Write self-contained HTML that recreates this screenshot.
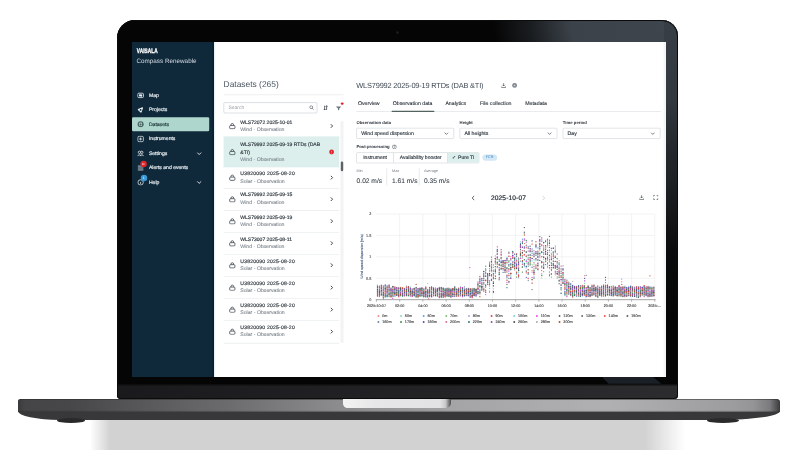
<!DOCTYPE html>
<html><head><meta charset="utf-8">
<style>
*{box-sizing:border-box;margin:0;padding:0}
html,body{width:800px;height:450px;overflow:hidden;background:#fff}
body{position:relative;font-family:"Liberation Sans",Arial,sans-serif}
.abs{position:absolute}
#shadow{position:absolute;left:60px;top:419px;width:640px;height:31px;
 background:linear-gradient(90deg,rgba(255,255,255,1) 0px,rgba(255,255,255,1) 30px,rgba(255,255,255,0) 50px,rgba(255,255,255,0) 585px,rgba(255,255,255,1) 625px),#d2d2d2}
#base{position:absolute;left:18px;top:404px;width:762px;height:16px;border-radius:0 0 60px 42px/0 0 9px 9px;background:#38383a}
#basetop{position:absolute;left:18px;top:399.3px;width:762px;height:12.4px;border-radius:2.5px 3.5px 1px 1px;box-shadow:inset 0 1px 0 rgba(40,40,40,.5),inset 0 -1px 1px rgba(40,40,40,.4);background:linear-gradient(90deg,#3a3a3c 0%,#454547 .9%,#474749 6.8%,#6c6c6e 27.8%,#8a8a8c 40.9%,#a4a4a6 56.7%,#b0b0b2 77.7%,#9c9c9e 94%,#949496 96.5%,#7a7a7c 98.7%,#3a3a3c 100%)}
#notch{position:absolute;left:343.2px;top:398.8px;width:108px;height:9.5px;border-radius:0 0 5px 4.5px;background:linear-gradient(90deg,#f4f4f4 0%,#e6e6e8 30%,#e2e2e4 90%,#c8c8ca 95%,#4a4a4c 100%)}
.foot{position:absolute;top:418px;height:5px;border-radius:50%;background:#2a2a2a}
#lid{position:absolute;left:117.3px;top:19.8px;width:561.2px;height:379.2px;border-radius:18px 16px 4px 4px;
 background:#050505;overflow:hidden;box-shadow:inset 0 0 0 1.2px #0a0a0a}
#lidglare{position:absolute;left:0;top:0;width:100%;height:100%;background:radial-gradient(ellipse 185px 135px at 100% 0%,rgba(62,69,76,1) 0%,rgba(59,66,73,1) 58%,rgba(40,45,50,.6) 80%,rgba(20,22,25,0) 100%)}
#lidrim{position:absolute;left:0;top:0;width:100%;height:100%;border-radius:18px 16px 4px 4px;border:1.6px solid #0b0b0b}
#chin{position:absolute;left:0;top:364px;width:100%;height:15px;background:linear-gradient(180deg,#0a0a0a 0,rgba(10,10,10,0) 2.5px),linear-gradient(90deg,#1a1a1c 0%,#1f1f21 30%,#232325 55%,#29292b 80%,#2c2c2e 100%)}
#screen{position:absolute;left:132px;top:41.5px;width:534px;height:335px;background:#fff;overflow:hidden}
#app{position:absolute;left:0;top:0;width:1335px;height:838px;transform:scale(.4);transform-origin:0 0;background:#fff;color:#2b3440;text-rendering:geometricPrecision}
#side{position:absolute;left:0;top:0;width:205px;height:838px;background:#0f293b;border-right:4px solid #0b1f2d}

#side .brand{position:absolute;left:11.5px;top:13.5px;font-weight:bold;font-size:16.5px;line-height:16.5px;color:#fff;transform:scaleX(.72);transform-origin:0 0;letter-spacing:.2px;-webkit-text-stroke:.8px #fff}
#side .prod{position:absolute;left:11.25px;top:40px;font-size:15.8px;line-height:16px;color:#d6dde3}
.nav{position:absolute;left:0;width:205px;height:35px;color:#eef2f5;font-size:12.7px;-webkit-text-stroke:.4px #eef2f5}
.nav.act{-webkit-text-stroke:.4px #1c3838}
.nav span.t{position:absolute;left:42.25px;top:11px;line-height:13px}
.nav svg{position:absolute;left:12.5px;top:9px;width:17px;height:17px}
.nav.act{left:0;width:192.5px;background:#aed6cd;border-radius:3px;color:#1c3838}
.nav .chev{position:absolute;left:160.5px;top:11px;width:14px;height:14px}
.badge{position:absolute;width:14px;height:14px;border-radius:50%}

.h1{position:absolute;left:229px;top:95.4px;font-size:21px;line-height:21px;color:#4b5661;white-space:nowrap}
.hr{position:absolute;height:2px;background:#e8ebee}
#search{position:absolute;left:229px;top:151px;width:234px;height:26.5px;border:1.8px solid #a9b1b8;border-radius:3px;background:#fff}
#search span{position:absolute;left:11px;top:6px;font-size:12.5px;line-height:12px;color:#9aa2aa}
#search svg{position:absolute;left:213px;top:6px;width:12px;height:12px}
.item{position:absolute;left:229px;width:288.5px;height:55.2px;background:#fff;border-bottom:2.5px solid #e7e9eb}
.item.sel{background:#dcefed;border-bottom:none}
.item .ti{position:absolute;left:41.75px;font-size:12.6px;line-height:12.5px;color:#2d353d;white-space:nowrap;-webkit-text-stroke:.4px #2d353d}
.item .su{position:absolute;left:41.75px;font-size:12.9px;line-height:13px;color:#7a838b;white-space:nowrap;-webkit-text-stroke:.2px #7a838b}
.item svg.ic{position:absolute;left:13px;width:17.5px;height:17.5px;margin-top:-.5px}
.item svg.ch{position:absolute;left:265px;width:10px;height:12px}
#sb{position:absolute;left:521px;top:198px;width:7px;height:554px;background:#f3f4f5;border-right:1.5px solid #e6e8ea}
#sbt{position:absolute;left:521.5px;top:299px;width:6px;height:24px;background:#5d6369;border-radius:3px}
.t2{position:absolute;left:560.75px;top:100px;font-size:18.5px;line-height:19px;letter-spacing:-.45px;color:#3f4953;white-space:nowrap}
.tab{position:absolute;top:146px;font-size:13px;line-height:13px;color:#2d363f;white-space:nowrap;-webkit-text-stroke:.3px #2d363f}
.lab{position:absolute;top:196px;font-weight:bold;font-size:10.6px;line-height:11px;color:#2b333b;white-space:nowrap}
.dd{position:absolute;top:215px;width:244px;height:27px;border:1.8px solid #b4bbc2;border-radius:3px;background:#fff}
.dd span{position:absolute;left:11px;top:5.5px;font-size:13px;line-height:13px;color:#2d363f;white-space:nowrap;-webkit-text-stroke:.35px #2d363f}
.dd svg{position:absolute;right:12px;top:9px;width:12px;height:8px}
.seg{position:absolute;left:561px;top:275.5px;width:306.5px;height:27px;border:1.8px solid #b4bbc2;border-radius:3px;display:flex;overflow:hidden}
.sg{height:100%;border-right:1.8px solid #b4bbc2;font-size:12.6px;line-height:23px;text-align:center;color:#2d363f;white-space:nowrap;-webkit-text-stroke:.35px #2d363f}
.sg.on{border-right:none;background:#dcefed}
.sg .ck{font-size:12px;margin-right:5px;color:#2d363f}
.chip{position:absolute;left:876px;top:281.25px;width:36.5px;height:16px;border-radius:8px;background:#d3e8f7;color:#3b7fb8;font-size:9.5px;line-height:16px;text-align:center}
.stl{position:absolute;top:316.5px;font-size:9.5px;line-height:10px;color:#6d767e}
.stv{position:absolute;top:339px;font-size:16.6px;line-height:17px;color:#3a434c;white-space:nowrap;-webkit-text-stroke:.2px #3a434c}
.vd{position:absolute;top:316px;width:2px;height:43px;background:#e1e4e7}
.date{position:absolute;left:897.5px;top:381.5px;font-size:16.5px;line-height:17px;color:#2d363f;letter-spacing:.3px;-webkit-text-stroke:.6px #2d363f}
#wrap{position:absolute;left:0;top:0;width:800px;height:450px;filter:blur(.35px)}</style></head>
<body><div id="wrap">
<div id="shadow"></div>
<div id="base"></div>
<div id="basetop"></div>
<div id="notch"></div>
<div class="foot" style="left:57px;width:28px"></div>
<div class="foot" style="left:707px;width:32px"></div>
<div id="lid"><div id="lidglare"></div><div id="rglare" style="position:absolute;right:0;top:0;width:14px;height:300px;background:linear-gradient(180deg,rgba(55,61,68,.9) 0,rgba(42,47,52,.75) 150px,rgba(25,28,31,.3) 230px,rgba(20,22,25,0) 300px)"></div><div id="chin"></div><div style="position:absolute;left:484px;top:356.5px;width:60px;height:7.5px;background:#1b2027;clip-path:polygon(0 0,85% 0,100% 100%,12% 100%)"></div><div id="cam" style="position:absolute;left:278.5px;top:10.8px;width:3.4px;height:3.4px;border-radius:50%;background:radial-gradient(circle,#1e1e20 0%,#0e0e0e 100%)"></div><div id="lidrim"></div></div>
<div id="screen"><div id="app">
<div id="side">
<div class="brand">VAISALA</div>
<div class="prod">Compass Renewable</div>
<div class="nav" style="top:116px"><svg viewBox="0 0 16 16"><rect x="1.2" y="2.8" width="13.6" height="10.4" rx="2.6" fill="none" stroke="#e9eef1" stroke-width="1.9"/><path d="M4.2 5.6 L6.6 5 L9.4 6 L11.8 5.4 V10.4 L9.4 11 L6.6 10 L4.2 10.6 Z" fill="#e9eef1"/></svg><span class="t">Map</span></div>
<div class="nav" style="top:152.2px"><svg viewBox="0 0 16 16"><path d="M2.5 7.5 L12.5 3.5 L9 13.5 Z" fill="#e9eef1" stroke="#e9eef1" stroke-width="2.6" stroke-linejoin="round"/><circle cx="8" cy="8.2" r="2.1" fill="#0f293b"/></svg><span class="t">Projects</span></div>
<div class="nav act" style="top:188.4px"><svg viewBox="0 0 16 16"><circle cx="8" cy="8" r="7.2" fill="#4b6766"/><rect x="4.8" y="3.8" width="6.4" height="8.6" rx="2" fill="#aed6cd"/><rect x="6.1" y="6.6" width="3.8" height="4.2" rx=".8" fill="#4b6766"/></svg><span class="t">Datasets</span></div>
<div class="nav" style="top:224.6px"><svg viewBox="0 0 16 16" fill="none" stroke="#e9eef1" stroke-width="1.8"><rect x="1.5" y="1.5" width="13" height="13" rx="3"/><path d="M4.5 8 H11.5 M8 4.5 V11.5"/></svg><span class="t">Instruments</span></div>
<div class="nav" style="top:260.8px"><svg viewBox="0 0 16 16" fill="none" stroke="#e9eef1" stroke-width="1.8"><circle cx="5.2" cy="5.5" r="2.8"/><circle cx="10.8" cy="5.5" r="2.8"/><path d="M0.9 14.5 C1.4 10.3 9 10.3 9.5 14.5 M6.5 14.5 C7 10.3 14.6 10.3 15.1 14.5"/></svg><span class="t">Settings</span><svg class="chev" viewBox="0 0 10 10" fill="none" stroke="#dfe6ea" stroke-width="1.7"><path d="M1.5 3.2 L5 6.7 L8.5 3.2"/></svg></div>
<div class="nav" style="top:297px"><svg viewBox="0 0 16 16" fill="none" stroke="#e9eef1" stroke-width="1.8"><path d="M1.5 4 H14.5 M1.5 8.5 H14.5 M1.5 13 H14.5"/></svg><span class="badge" style="left:21px;top:-.5px;width:16px;height:16px;background:#e0242c;color:#fff;font-size:7.5px;line-height:16px;text-align:center;-webkit-text-stroke:0">9+</span><span class="t">Alerts and events</span></div>
<div class="nav" style="top:333.2px"><svg viewBox="0 0 16 16" fill="none" stroke="#e9eef1" stroke-width="1.8"><circle cx="8" cy="8.5" r="6.3"/><path d="M8 7.5 V12"/></svg><span class="badge" style="left:21.5px;top:-1px;width:16px;height:16px;background:#3a9ad9;color:#fff;font-size:8.5px;line-height:16px;text-align:center;-webkit-text-stroke:0">1</span><span class="t">Help</span><svg class="chev" viewBox="0 0 10 10" fill="none" stroke="#dfe6ea" stroke-width="1.7"><path d="M1.5 3.2 L5 6.7 L8.5 3.2"/></svg></div>
</div>
<div id="sideline" style="position:absolute;left:205px;top:0;width:2.5px;height:838px;background:#e9eef2"></div><div class="h1">Datasets (265)</div><div class="hr" style="left:229px;top:131px;width:300px"></div><div id="search"><span>Search</span><svg viewBox="0 0 12 12" fill="none" stroke="#4a5259" stroke-width="1.6"><circle cx="5" cy="5" r="3.6"/><path d="M7.6 7.6 L11 11"/></svg></div><svg style="position:absolute;left:478px;top:158px;width:12px;height:13px" viewBox="0 0 12 13" fill="none" stroke="#2f373e" stroke-width="1.8"><path d="M3.5 1 V12 M1 9.5 L3.5 12 L6 9.5 M8.5 12 V1 M6 3.5 L8.5 1 L11 3.5"/></svg><svg style="position:absolute;left:509px;top:159.5px;width:15px;height:11px" viewBox="0 0 15 11" fill="#6c747b"><path d="M0.5 1 H14.5 L9 6.5 V10.5 L6 10.5 V6.5 Z"/></svg><span class="badge" style="left:522px;top:150.5px;width:6.5px;height:6.5px;background:#e0242c"></span><div id="sb"></div><div class="item" style="top:184.75px"><svg class="ic" viewBox="0 0 16 16" fill="none" stroke="#3c444b" stroke-width="1.8" style="top:17.0px"><path d="M5 7 V5.5 A3 3 0 0 1 11 5.5 V7"/><rect x="2" y="7" width="12" height="7.5" rx="2.2"/></svg><span class="ti" style="top:9.25px">WLS72072 2025-10-01</span><span class="su" style="top:27px">Wind - Observation</span><svg class="ch" viewBox="0 0 10 12" fill="none" stroke="#3a4249" stroke-width="2.4" style="top:19.5px"><path d="M3 1.5 L7.5 6 L3 10.5"/></svg></div><div class="item sel" style="top:236.25px;height:77.5px"><svg class="ic" viewBox="0 0 16 16" fill="none" stroke="#3c444b" stroke-width="1.8" style="top:30.0px"><path d="M5 7 V5.5 A3 3 0 0 1 11 5.5 V7"/><rect x="2" y="7" width="12" height="7.5" rx="2.2"/></svg><span class="ti" style="top:14px">WLS79992 2025-09-19 RTDs (DAB</span><span class="ti" style="top:32.5px">&amp;TI)</span><span class="su" style="top:49.5px">Wind - Observation</span><span class="badge" style="left:263.5px;top:33px;width:12px;height:12px;background:#e0242c"><i style="position:absolute;left:5.2px;top:2.5px;width:1.8px;height:4.5px;background:#fff"></i><i style="position:absolute;left:5.2px;top:8px;width:1.8px;height:1.6px;background:#fff"></i></span></div><div class="item" style="top:313.75px;height:53.45px"><svg class="ic" viewBox="0 0 16 16" fill="none" stroke="#3c444b" stroke-width="1.8" style="top:17.0px"><path d="M5 7 V5.5 A3 3 0 0 1 11 5.5 V7"/><rect x="2" y="7" width="12" height="7.5" rx="2.2"/></svg><span class="ti" style="top:9.25px;letter-spacing:.55px">U3820090 2025-08-20</span><span class="su" style="top:27px">Solar - Observation</span><svg class="ch" viewBox="0 0 10 12" fill="none" stroke="#3a4249" stroke-width="2.4" style="top:19.5px"><path d="M3 1.5 L7.5 6 L3 10.5"/></svg></div><div class="item" style="top:367.20px"><svg class="ic" viewBox="0 0 16 16" fill="none" stroke="#3c444b" stroke-width="1.8" style="top:17.0px"><path d="M5 7 V5.5 A3 3 0 0 1 11 5.5 V7"/><rect x="2" y="7" width="12" height="7.5" rx="2.2"/></svg><span class="ti" style="top:9.25px">WLS79992 2025-09-15</span><span class="su" style="top:27px">Wind - Observation</span><svg class="ch" viewBox="0 0 10 12" fill="none" stroke="#3a4249" stroke-width="2.4" style="top:19.5px"><path d="M3 1.5 L7.5 6 L3 10.5"/></svg></div><div class="item" style="top:422.40px"><svg class="ic" viewBox="0 0 16 16" fill="none" stroke="#3c444b" stroke-width="1.8" style="top:17.0px"><path d="M5 7 V5.5 A3 3 0 0 1 11 5.5 V7"/><rect x="2" y="7" width="12" height="7.5" rx="2.2"/></svg><span class="ti" style="top:9.25px">WLS79992 2025-09-19</span><span class="su" style="top:27px">Wind - Observation</span><svg class="ch" viewBox="0 0 10 12" fill="none" stroke="#3a4249" stroke-width="2.4" style="top:19.5px"><path d="M3 1.5 L7.5 6 L3 10.5"/></svg></div><div class="item" style="top:477.60px"><svg class="ic" viewBox="0 0 16 16" fill="none" stroke="#3c444b" stroke-width="1.8" style="top:17.0px"><path d="M5 7 V5.5 A3 3 0 0 1 11 5.5 V7"/><rect x="2" y="7" width="12" height="7.5" rx="2.2"/></svg><span class="ti" style="top:9.25px">WLS73007 2025-08-11</span><span class="su" style="top:27px">Wind - Observation</span><svg class="ch" viewBox="0 0 10 12" fill="none" stroke="#3a4249" stroke-width="2.4" style="top:19.5px"><path d="M3 1.5 L7.5 6 L3 10.5"/></svg></div><div class="item" style="top:532.80px"><svg class="ic" viewBox="0 0 16 16" fill="none" stroke="#3c444b" stroke-width="1.8" style="top:17.0px"><path d="M5 7 V5.5 A3 3 0 0 1 11 5.5 V7"/><rect x="2" y="7" width="12" height="7.5" rx="2.2"/></svg><span class="ti" style="top:9.25px;letter-spacing:.55px">U3820090 2025-08-20</span><span class="su" style="top:27px">Solar - Observation</span><svg class="ch" viewBox="0 0 10 12" fill="none" stroke="#3a4249" stroke-width="2.4" style="top:19.5px"><path d="M3 1.5 L7.5 6 L3 10.5"/></svg></div><div class="item" style="top:588.00px"><svg class="ic" viewBox="0 0 16 16" fill="none" stroke="#3c444b" stroke-width="1.8" style="top:17.0px"><path d="M5 7 V5.5 A3 3 0 0 1 11 5.5 V7"/><rect x="2" y="7" width="12" height="7.5" rx="2.2"/></svg><span class="ti" style="top:9.25px;letter-spacing:.55px">U3820090 2025-08-20</span><span class="su" style="top:27px">Solar - Observation</span><svg class="ch" viewBox="0 0 10 12" fill="none" stroke="#3a4249" stroke-width="2.4" style="top:19.5px"><path d="M3 1.5 L7.5 6 L3 10.5"/></svg></div><div class="item" style="top:643.20px"><svg class="ic" viewBox="0 0 16 16" fill="none" stroke="#3c444b" stroke-width="1.8" style="top:17.0px"><path d="M5 7 V5.5 A3 3 0 0 1 11 5.5 V7"/><rect x="2" y="7" width="12" height="7.5" rx="2.2"/></svg><span class="ti" style="top:9.25px;letter-spacing:.55px">U3820090 2025-08-20</span><span class="su" style="top:27px">Solar - Observation</span><svg class="ch" viewBox="0 0 10 12" fill="none" stroke="#3a4249" stroke-width="2.4" style="top:19.5px"><path d="M3 1.5 L7.5 6 L3 10.5"/></svg></div><div class="item" style="top:698.40px"><svg class="ic" viewBox="0 0 16 16" fill="none" stroke="#3c444b" stroke-width="1.8" style="top:17.0px"><path d="M5 7 V5.5 A3 3 0 0 1 11 5.5 V7"/><rect x="2" y="7" width="12" height="7.5" rx="2.2"/></svg><span class="ti" style="top:9.25px;letter-spacing:.55px">U3820090 2025-08-20</span><span class="su" style="top:27px">Solar - Observation</span><svg class="ch" viewBox="0 0 10 12" fill="none" stroke="#3a4249" stroke-width="2.4" style="top:19.5px"><path d="M3 1.5 L7.5 6 L3 10.5"/></svg></div><div id="sbt"></div>
<div class="t2">WLS79992 2025-09-19 RTDs (DAB &amp;TI)</div>
<svg style="position:absolute;left:923px;top:101.5px;width:12px;height:13px" viewBox="0 0 12 13" fill="none" stroke="#4a5259" stroke-width="1.7"><path d="M6 1 V8 M3 5 L6 8 L9 5 M1 9 V12 H11 V9"/></svg>
<svg style="position:absolute;left:949.5px;top:102px;width:13px;height:13px" viewBox="0 0 13 13"><circle cx="6.5" cy="6.5" r="6" fill="#7b838b"/><circle cx="6.5" cy="6.5" r="2.4" fill="#c9ced3"/></svg>
<div class="tab" style="left:564.75px">Overview</div>
<div class="tab" style="left:652px">Observation data</div>
<div class="tab" style="left:783.5px">Analytics</div>
<div class="tab" style="left:870px">File collection</div>
<div class="tab" style="left:983px">Metadata</div>
<div class="hr" style="left:561px;top:173px;width:761px;background:#e4e7ea"></div>
<div style="position:absolute;left:649px;top:171.6px;width:107px;height:3px;background:#52625e;border-radius:1.5px"></div>
<div class="lab" style="left:561px">Observation data</div>
<div class="lab" style="left:819px">Height</div>
<div class="lab" style="left:1077px">Time period</div>
<div class="dd" style="left:561px"><span>Wind speed dispersion</span><svg viewBox="0 0 12 8" fill="none" stroke="#4a5259" stroke-width="1.8"><path d="M1.5 1.5 L6 6 L10.5 1.5"/></svg></div>
<div class="dd" style="left:819px"><span>All heights</span><svg viewBox="0 0 12 8" fill="none" stroke="#4a5259" stroke-width="1.8"><path d="M1.5 1.5 L6 6 L10.5 1.5"/></svg></div>
<div class="dd" style="left:1077px"><span>Day</span><svg viewBox="0 0 12 8" fill="none" stroke="#4a5259" stroke-width="1.8"><path d="M1.5 1.5 L6 6 L10.5 1.5"/></svg></div>
<div class="lab" style="left:561px;top:256.5px">Post-processing</div>
<svg style="position:absolute;left:650px;top:256px;width:12px;height:12px" viewBox="0 0 12 12" fill="none" stroke="#4a5259" stroke-width="1.3"><circle cx="6" cy="6" r="5"/><path d="M4.3 4.6 A1.8 1.8 0 1 1 6 6.4 V7.4 M6 8.6 V9.4"/></svg>
<div class="seg"><div class="sg" style="width:92.5px">Instrument</div><div class="sg" style="width:135.5px">Availability booster</div><div class="sg on" style="flex:1"><span class="ck">&#10003;</span>Pure TI</div></div>
<div class="chip">FCR</div>
<div class="stl" style="left:561.5px">Min</div><div class="stv" style="left:561.5px">0.02 m/s</div>
<div class="vd" style="left:636px"></div>
<div class="stl" style="left:650px">Max</div><div class="stv" style="left:650px">1.61 m/s</div>
<div class="vd" style="left:717px"></div>
<div class="stl" style="left:730px">Average</div><div class="stv" style="left:730px">0.35 m/s</div>
<svg style="position:absolute;left:848px;top:383px;width:10px;height:14px" viewBox="0 0 10 14" fill="none" stroke="#3c444b" stroke-width="2"><path d="M7.5 1.5 L2.5 7 L7.5 12.5"/></svg>
<div class="date">2025-10-07</div>
<svg style="position:absolute;left:1024px;top:383px;width:10px;height:14px" viewBox="0 0 10 14" fill="none" stroke="#c9ced3" stroke-width="2"><path d="M2.5 1.5 L7.5 7 L2.5 12.5"/></svg>
<svg style="position:absolute;left:1268px;top:382px;width:12px;height:13px" viewBox="0 0 12 13" fill="none" stroke="#4a5259" stroke-width="1.7"><path d="M6 1 V8 M3 5 L6 8 L9 5 M1 9 V12 H11 V9"/></svg>
<svg style="position:absolute;left:1302.5px;top:382px;width:13px;height:13px" viewBox="0 0 13 13" fill="none" stroke="#4a5259" stroke-width="1.7"><path d="M1 4.5 V1 H4.5 M8.5 1 H12 V4.5 M12 8.5 V12 H8.5 M4.5 12 H1 V8.5"/></svg>
<div id="vscr" style="position:absolute;left:1329px;top:0;width:6px;height:838px;background:#f4f5f6"></div>
<svg style="position:absolute;left:0;top:0;width:1335px;height:838px;overflow:visible" viewBox="0 0 1335 838">
<path d="M611.2 590.7H1307.0M611.2 537.1H1307.0M611.2 483.6H1307.0M611.2 430.0H1307.0M669.2 430.0V644.2M727.2 430.0V644.2M785.2 430.0V644.2M843.2 430.0V644.2M901.1 430.0V644.2M959.1 430.0V644.2M1017.1 430.0V644.2M1075.1 430.0V644.2M1133.1 430.0V644.2M1191.0 430.0V644.2M1249.0 430.0V644.2M1307.0 430.0V644.2" stroke="#ececec" stroke-width="1.6" fill="none"/>
<path d="M613.7 615.8h0M618.5 628.6h0M623.3 633.5h0M628.2 615.3h0M633.0 629.4h0M637.8 612.3h0M642.7 632.9h0M647.5 635.2h0M652.3 617.2h0M657.2 624.0h0M662.0 629.3h0M666.8 620.7h0M671.6 627.8h0M676.5 617.9h0M681.3 624.6h0M686.1 629.8h0M691.0 615.9h0M695.8 613.7h0M700.6 616.6h0M705.5 628.8h0M710.3 634.3h0M715.1 623.9h0M720.0 630.9h0M724.8 634.6h0M729.6 621.6h0M734.5 624.9h0M739.3 620.4h0M744.1 614.9h0M749.0 616.1h0M753.8 622.5h0M758.6 626.1h0M763.4 628.7h0M768.3 614.2h0M773.1 626.9h0M777.9 633.3h0M782.8 623.9h0M787.6 617.7h0M792.4 615.5h0M797.3 631.9h0M802.1 625.7h0M806.9 627.7h0M811.8 633.8h0M816.6 634.0h0M821.4 624.5h0M826.3 619.2h0M831.1 632.1h0M835.9 631.6h0M840.8 629.4h0M845.6 636.3h0M850.4 625.3h0M855.2 633.7h0M860.1 631.6h0M864.9 601.2h0M869.7 626.6h0M874.6 595.8h0M879.4 602.6h0M884.2 622.5h0M889.1 593.8h0M893.9 622.6h0M898.7 572.3h0M903.6 598.4h0M908.4 546.1h0M913.2 537.2h0M918.1 575.4h0M922.9 550.2h0M927.7 558.1h0M932.6 560.0h0M937.4 575.8h0M942.2 582.3h0M947.0 536.5h0M951.9 539.5h0M956.7 548.9h0M961.5 576.2h0M966.4 540.6h0M971.2 533.0h0M976.0 562.3h0M980.9 531.2h0M985.7 548.9h0M990.5 591.9h0M995.4 551.5h0M1000.2 603.5h0M1005.0 537.6h0M1009.9 556.8h0M1014.7 565.4h0M1019.5 539.1h0M1024.4 494.2h0M1029.2 551.8h0M1034.0 510.2h0M1038.8 563.9h0M1043.7 539.7h0M1048.5 534.5h0M1053.3 537.4h0M1058.2 514.7h0M1063.0 549.2h0M1067.8 546.3h0M1072.7 599.8h0M1077.5 566.3h0M1082.3 615.0h0M1087.2 613.9h0M1092.0 601.3h0M1096.8 607.3h0M1101.7 618.9h0M1106.5 625.7h0M1111.3 630.9h0M1116.2 631.5h0M1121.0 633.6h0M1125.8 615.2h0M1130.6 623.2h0M1135.5 621.6h0M1140.3 608.7h0M1145.1 629.7h0M1150.0 613.3h0M1154.8 632.9h0M1159.6 631.6h0M1164.5 617.0h0M1169.3 629.6h0M1174.1 635.2h0M1179.0 613.5h0M1183.8 618.7h0M1188.6 606.9h0M1193.5 628.7h0M1198.3 614.2h0M1203.1 615.6h0M1208.0 611.0h0M1212.8 628.7h0M1217.6 608.5h0M1222.4 618.3h0M1227.3 622.1h0M1232.1 613.1h0M1236.9 623.4h0M1241.8 627.2h0M1246.6 634.2h0M1251.4 634.7h0M1256.3 618.4h0M1261.1 627.3h0M1265.9 627.6h0M1270.8 635.7h0M1275.6 631.1h0M1280.4 614.5h0M1285.3 618.0h0M1290.1 611.2h0M1294.9 628.3h0M1299.8 622.8h0M1304.6 629.3h0M1131.6 584.3h0M1224.4 599.3h0" stroke="#f08a8a" stroke-width="3.2" stroke-linecap="round" fill="none"/>
<path d="M613.7 630.7h0M618.5 617.9h0M623.3 632.7h0M628.2 637.5h0M633.0 627.6h0M637.8 637.5h0M642.7 637.1h0M647.5 625.2h0M652.3 622.5h0M657.2 636.3h0M662.0 620.8h0M666.8 613.5h0M671.6 614.2h0M676.5 635.4h0M681.3 632.5h0M686.1 615.5h0M691.0 626.1h0M695.8 615.1h0M700.6 631.4h0M705.5 629.7h0M710.3 638.0h0M715.1 627.5h0M720.0 634.8h0M724.8 635.9h0M729.6 623.0h0M734.5 617.3h0M739.3 603.2h0M744.1 630.1h0M749.0 620.3h0M753.8 632.9h0M758.6 616.7h0M763.4 634.2h0M768.3 633.8h0M773.1 638.7h0M777.9 637.5h0M782.8 625.1h0M787.6 633.9h0M792.4 617.8h0M797.3 617.7h0M802.1 635.7h0M806.9 636.4h0M811.8 632.3h0M816.6 616.6h0M821.4 614.3h0M826.3 619.9h0M831.1 633.2h0M835.9 619.7h0M840.8 621.7h0M845.6 627.9h0M850.4 635.5h0M855.2 634.8h0M860.1 630.1h0M864.9 611.8h0M869.7 589.8h0M874.6 590.7h0M879.4 617.2h0M884.2 582.6h0M889.1 585.0h0M893.9 624.2h0M898.7 543.2h0M903.6 617.1h0M908.4 561.5h0M913.2 555.8h0M918.1 563.7h0M922.9 560.1h0M927.7 568.1h0M932.6 560.1h0M937.4 538.6h0M942.2 546.3h0M947.0 583.6h0M951.9 532.3h0M956.7 542.8h0M961.5 580.4h0M966.4 543.4h0M971.2 527.5h0M976.0 510.9h0M980.9 544.6h0M985.7 552.9h0M990.5 511.5h0M995.4 533.0h0M1000.2 519.1h0M1005.0 544.6h0M1009.9 546.6h0M1014.7 557.1h0M1019.5 525.2h0M1024.4 589.6h0M1029.2 518.1h0M1034.0 548.7h0M1038.8 551.6h0M1043.7 566.6h0M1048.5 528.1h0M1053.3 514.1h0M1058.2 526.7h0M1063.0 568.0h0M1067.8 596.1h0M1072.7 616.7h0M1077.5 571.4h0M1082.3 626.6h0M1087.2 607.6h0M1092.0 618.6h0M1096.8 610.9h0M1101.7 634.5h0M1106.5 628.1h0M1111.3 622.1h0M1116.2 617.7h0M1121.0 622.1h0M1125.8 625.1h0M1130.6 631.2h0M1135.5 618.1h0M1140.3 624.8h0M1145.1 632.3h0M1150.0 624.7h0M1154.8 606.6h0M1159.6 630.9h0M1164.5 611.3h0M1169.3 623.6h0M1174.1 611.9h0M1179.0 633.5h0M1183.8 630.3h0M1188.6 615.5h0M1193.5 614.7h0M1198.3 612.5h0M1203.1 609.4h0M1208.0 616.0h0M1212.8 613.5h0M1217.6 633.0h0M1222.4 632.8h0M1227.3 630.3h0M1232.1 611.9h0M1236.9 620.0h0M1241.8 612.2h0M1246.6 631.9h0M1251.4 613.2h0M1256.3 628.2h0M1261.1 617.1h0M1265.9 623.9h0M1270.8 633.4h0M1275.6 632.6h0M1280.4 630.8h0M1285.3 626.6h0M1290.1 620.9h0M1294.9 613.0h0M1299.8 616.0h0M1304.6 620.0h0M1131.6 603.5h0" stroke="#8fd0b4" stroke-width="3.2" stroke-linecap="round" fill="none"/>
<path d="M613.7 611.5h0M618.5 611.3h0M623.3 611.7h0M628.2 628.4h0M633.0 610.8h0M637.8 636.2h0M642.7 626.7h0M647.5 615.8h0M652.3 633.3h0M657.2 621.8h0M662.0 627.0h0M666.8 634.1h0M671.6 629.8h0M676.5 619.8h0M681.3 633.8h0M686.1 622.5h0M691.0 623.5h0M695.8 632.6h0M700.6 624.6h0M705.5 615.6h0M710.3 625.7h0M715.1 629.8h0M720.0 622.2h0M724.8 619.3h0M729.6 625.7h0M734.5 635.0h0M739.3 631.8h0M744.1 632.6h0M749.0 623.4h0M753.8 627.6h0M758.6 634.4h0M763.4 632.1h0M768.3 613.6h0M773.1 613.5h0M777.9 626.7h0M782.8 618.4h0M787.6 633.6h0M792.4 621.2h0M797.3 618.3h0M802.1 628.3h0M806.9 616.6h0M811.8 635.9h0M816.6 630.3h0M821.4 617.8h0M826.3 616.8h0M831.1 628.7h0M835.9 617.2h0M840.8 627.6h0M845.6 630.8h0M850.4 627.7h0M855.2 631.3h0M860.1 623.7h0M864.9 608.3h0M869.7 596.8h0M874.6 596.9h0M879.4 606.1h0M884.2 584.3h0M889.1 593.2h0M893.9 609.9h0M898.7 595.2h0M903.6 557.4h0M908.4 578.0h0M913.2 531.2h0M918.1 571.4h0M922.9 546.5h0M927.7 556.6h0M932.6 571.2h0M937.4 585.8h0M942.2 578.6h0M947.0 553.6h0M951.9 549.2h0M956.7 546.8h0M961.5 544.5h0M966.4 550.5h0M971.2 503.9h0M976.0 492.9h0M980.9 514.9h0M985.7 545.6h0M990.5 581.0h0M995.4 533.2h0M1000.2 517.0h0M1005.0 587.5h0M1009.9 514.2h0M1014.7 514.8h0M1019.5 499.5h0M1024.4 526.0h0M1029.2 574.2h0M1034.0 530.9h0M1038.8 557.0h0M1043.7 575.0h0M1048.5 587.8h0M1053.3 524.6h0M1058.2 510.3h0M1063.0 587.1h0M1067.8 557.6h0M1072.7 614.0h0M1077.5 598.3h0M1082.3 631.2h0M1087.2 612.4h0M1092.0 629.1h0M1096.8 604.1h0M1101.7 630.8h0M1106.5 625.7h0M1111.3 635.6h0M1116.2 628.0h0M1121.0 635.1h0M1125.8 634.4h0M1130.6 614.0h0M1135.5 635.4h0M1140.3 631.4h0M1145.1 613.9h0M1150.0 616.2h0M1154.8 608.2h0M1159.6 619.4h0M1164.5 612.9h0M1169.3 624.4h0M1174.1 631.3h0M1179.0 619.4h0M1183.8 627.7h0M1188.6 627.1h0M1193.5 627.1h0M1198.3 626.9h0M1203.1 629.2h0M1208.0 618.6h0M1212.8 632.6h0M1217.6 629.4h0M1222.4 627.9h0M1227.3 618.0h0M1232.1 631.4h0M1236.9 616.7h0M1241.8 613.2h0M1246.6 616.9h0M1251.4 621.2h0M1256.3 626.7h0M1261.1 624.7h0M1265.9 620.8h0M1270.8 611.7h0M1275.6 614.2h0M1280.4 626.8h0M1285.3 633.4h0M1290.1 613.3h0M1294.9 622.7h0M1299.8 630.5h0M1304.6 616.9h0M1224.4 592.8h0" stroke="#5a9ee6" stroke-width="3.2" stroke-linecap="round" fill="none"/>
<path d="M613.7 631.3h0M618.5 621.7h0M623.3 628.3h0M628.2 625.5h0M633.0 636.2h0M637.8 609.8h0M642.7 634.0h0M647.5 621.6h0M652.3 634.9h0M657.2 630.0h0M662.0 628.7h0M666.8 617.8h0M671.6 618.2h0M676.5 623.9h0M681.3 620.4h0M686.1 614.7h0M691.0 624.7h0M695.8 619.2h0M700.6 632.1h0M705.5 619.8h0M710.3 618.4h0M715.1 638.8h0M720.0 628.7h0M724.8 619.5h0M729.6 636.5h0M734.5 637.8h0M739.3 633.9h0M744.1 618.7h0M749.0 626.3h0M753.8 628.0h0M758.6 614.9h0M763.4 624.3h0M768.3 624.7h0M773.1 615.2h0M777.9 618.8h0M782.8 619.4h0M787.6 628.5h0M792.4 636.5h0M797.3 626.3h0M802.1 623.5h0M806.9 621.2h0M811.8 624.6h0M816.6 633.5h0M821.4 630.6h0M826.3 622.0h0M831.1 623.7h0M835.9 626.5h0M840.8 625.3h0M845.6 625.5h0M850.4 623.9h0M855.2 621.3h0M860.1 635.2h0M864.9 607.2h0M869.7 611.0h0M874.6 603.7h0M879.4 616.0h0M884.2 595.8h0M889.1 581.0h0M893.9 565.7h0M898.7 557.9h0M903.6 563.9h0M908.4 550.9h0M913.2 556.8h0M918.1 543.5h0M922.9 556.6h0M927.7 561.0h0M932.6 553.9h0M937.4 554.5h0M942.2 547.5h0M947.0 543.7h0M951.9 555.7h0M956.7 540.3h0M961.5 532.0h0M966.4 544.1h0M971.2 539.6h0M976.0 563.5h0M980.9 556.3h0M985.7 507.7h0M990.5 539.1h0M995.4 554.4h0M1000.2 557.1h0M1005.0 555.2h0M1009.9 506.1h0M1014.7 531.0h0M1019.5 519.8h0M1024.4 584.1h0M1029.2 550.3h0M1034.0 547.3h0M1038.8 501.8h0M1043.7 508.1h0M1048.5 530.6h0M1053.3 546.8h0M1058.2 582.1h0M1063.0 541.1h0M1067.8 587.9h0M1072.7 575.0h0M1077.5 580.0h0M1082.3 633.8h0M1087.2 630.7h0M1092.0 618.2h0M1096.8 622.4h0M1101.7 624.9h0M1106.5 629.8h0M1111.3 626.2h0M1116.2 615.8h0M1121.0 624.7h0M1125.8 610.6h0M1130.6 610.9h0M1135.5 629.6h0M1140.3 622.1h0M1145.1 626.7h0M1150.0 616.9h0M1154.8 629.9h0M1159.6 632.9h0M1164.5 621.9h0M1169.3 633.9h0M1174.1 626.6h0M1179.0 617.0h0M1183.8 630.4h0M1188.6 622.3h0M1193.5 633.1h0M1198.3 611.9h0M1203.1 633.6h0M1208.0 626.5h0M1212.8 625.8h0M1217.6 635.0h0M1222.4 625.7h0M1227.3 634.7h0M1232.1 630.1h0M1236.9 628.3h0M1241.8 618.2h0M1246.6 626.1h0M1251.4 629.6h0M1256.3 620.5h0M1261.1 621.4h0M1265.9 635.3h0M1270.8 621.3h0M1275.6 624.3h0M1280.4 621.3h0M1285.3 618.6h0M1290.1 625.6h0M1294.9 615.9h0M1299.8 633.4h0M1304.6 615.7h0" stroke="#7cbc72" stroke-width="3.2" stroke-linecap="round" fill="none"/>
<path d="M613.7 617.4h0M618.5 636.5h0M623.3 618.2h0M628.2 635.4h0M633.0 621.8h0M637.8 630.3h0M642.7 615.6h0M647.5 618.6h0M652.3 615.7h0M657.2 620.3h0M662.0 632.5h0M666.8 629.4h0M671.6 624.2h0M676.5 618.7h0M681.3 618.9h0M686.1 619.5h0M691.0 630.1h0M695.8 618.0h0M700.6 617.5h0M705.5 624.2h0M710.3 632.1h0M715.1 621.5h0M720.0 627.6h0M724.8 631.6h0M729.6 616.7h0M734.5 621.9h0M739.3 632.8h0M744.1 637.0h0M749.0 635.0h0M753.8 634.9h0M758.6 615.4h0M763.4 619.7h0M768.3 634.7h0M773.1 635.2h0M777.9 636.1h0M782.8 636.3h0M787.6 620.8h0M792.4 631.9h0M797.3 629.8h0M802.1 620.5h0M806.9 632.3h0M811.8 630.7h0M816.6 628.2h0M821.4 619.8h0M826.3 635.7h0M831.1 620.9h0M835.9 616.0h0M840.8 618.0h0M845.6 635.0h0M850.4 615.8h0M855.2 626.5h0M860.1 629.2h0M864.9 599.0h0M869.7 623.6h0M874.6 593.4h0M879.4 587.8h0M884.2 626.0h0M889.1 589.3h0M893.9 616.2h0M898.7 574.2h0M903.6 563.1h0M908.4 583.4h0M913.2 529.2h0M918.1 554.5h0M922.9 529.9h0M927.7 570.7h0M932.6 568.4h0M937.4 569.8h0M942.2 536.0h0M947.0 546.7h0M951.9 551.4h0M956.7 560.4h0M961.5 560.9h0M966.4 589.4h0M971.2 507.4h0M976.0 512.7h0M980.9 493.6h0M985.7 564.4h0M990.5 541.6h0M995.4 544.3h0M1000.2 576.3h0M1005.0 530.6h0M1009.9 524.9h0M1014.7 544.4h0M1019.5 513.5h0M1024.4 578.4h0M1029.2 543.0h0M1034.0 514.9h0M1038.8 529.4h0M1043.7 525.1h0M1048.5 520.7h0M1053.3 553.7h0M1058.2 578.7h0M1063.0 560.5h0M1067.8 562.3h0M1072.7 628.4h0M1077.5 570.6h0M1082.3 617.6h0M1087.2 634.8h0M1092.0 627.9h0M1096.8 629.6h0M1101.7 612.4h0M1106.5 615.4h0M1111.3 625.7h0M1116.2 626.2h0M1121.0 626.1h0M1125.8 618.7h0M1130.6 627.1h0M1135.5 616.7h0M1140.3 610.1h0M1145.1 627.8h0M1150.0 609.8h0M1154.8 610.4h0M1159.6 616.6h0M1164.5 614.4h0M1169.3 622.2h0M1174.1 629.4h0M1179.0 623.9h0M1183.8 617.1h0M1188.6 623.3h0M1193.5 612.5h0M1198.3 631.2h0M1203.1 632.9h0M1208.0 612.1h0M1212.8 628.4h0M1217.6 615.0h0M1222.4 621.2h0M1227.3 631.2h0M1232.1 615.6h0M1236.9 615.7h0M1241.8 615.3h0M1246.6 628.7h0M1251.4 616.8h0M1256.3 612.6h0M1261.1 613.5h0M1265.9 622.1h0M1270.8 614.1h0M1275.6 627.6h0M1280.4 616.9h0M1285.3 623.5h0M1290.1 633.8h0M1294.9 611.9h0M1299.8 613.4h0M1304.6 618.3h0" stroke="#b09ce0" stroke-width="3.2" stroke-linecap="round" fill="none"/>
<path d="M613.7 619.2h0M618.5 633.8h0M623.3 622.4h0M628.2 638.5h0M633.0 624.2h0M637.8 617.2h0M642.7 624.6h0M647.5 623.3h0M652.3 626.3h0M657.2 626.6h0M662.0 616.7h0M666.8 630.6h0M671.6 628.9h0M676.5 616.4h0M681.3 616.0h0M686.1 619.0h0M691.0 632.2h0M695.8 623.5h0M700.6 622.0h0M705.5 630.9h0M710.3 637.2h0M715.1 636.3h0M720.0 621.2h0M724.8 615.6h0M729.6 620.8h0M734.5 630.6h0M739.3 625.8h0M744.1 613.6h0M749.0 627.9h0M753.8 615.0h0M758.6 622.3h0M763.4 621.6h0M768.3 632.1h0M773.1 636.0h0M777.9 615.0h0M782.8 635.6h0M787.6 626.3h0M792.4 623.5h0M797.3 630.6h0M802.1 630.2h0M806.9 614.0h0M811.8 617.8h0M816.6 635.3h0M821.4 627.7h0M826.3 626.4h0M831.1 620.4h0M835.9 624.0h0M840.8 617.2h0M845.6 619.6h0M850.4 639.3h0M855.2 624.9h0M860.1 620.6h0M864.9 605.9h0M869.7 586.0h0M874.6 612.8h0M879.4 595.2h0M884.2 625.6h0M889.1 596.3h0M893.9 550.2h0M898.7 582.2h0M903.6 610.1h0M908.4 554.8h0M913.2 512.1h0M918.1 555.9h0M922.9 531.9h0M927.7 556.0h0M932.6 559.3h0M937.4 551.2h0M942.2 584.2h0M947.0 541.8h0M951.9 549.9h0M956.7 551.9h0M961.5 563.4h0M966.4 583.5h0M971.2 514.1h0M976.0 555.4h0M980.9 532.3h0M985.7 577.1h0M990.5 543.9h0M995.4 523.1h0M1000.2 572.0h0M1005.0 577.3h0M1009.9 499.4h0M1014.7 569.1h0M1019.5 503.9h0M1024.4 509.1h0M1029.2 517.3h0M1034.0 544.1h0M1038.8 493.1h0M1043.7 534.4h0M1048.5 568.4h0M1053.3 557.9h0M1058.2 558.7h0M1063.0 562.1h0M1067.8 564.9h0M1072.7 560.3h0M1077.5 601.0h0M1082.3 608.3h0M1087.2 597.8h0M1092.0 615.0h0M1096.8 624.3h0M1101.7 623.7h0M1106.5 632.0h0M1111.3 615.9h0M1116.2 620.6h0M1121.0 628.8h0M1125.8 608.4h0M1130.6 624.9h0M1135.5 633.7h0M1140.3 626.2h0M1145.1 614.5h0M1150.0 607.9h0M1154.8 616.8h0M1159.6 634.1h0M1164.5 637.8h0M1169.3 620.5h0M1174.1 625.3h0M1179.0 629.6h0M1183.8 625.8h0M1188.6 618.5h0M1193.5 617.7h0M1198.3 627.9h0M1203.1 619.0h0M1208.0 632.8h0M1212.8 615.2h0M1217.6 627.0h0M1222.4 612.4h0M1227.3 632.9h0M1232.1 620.0h0M1236.9 632.9h0M1241.8 631.3h0M1246.6 630.5h0M1251.4 623.8h0M1256.3 632.4h0M1261.1 616.0h0M1265.9 615.0h0M1270.8 629.1h0M1275.6 616.3h0M1280.4 609.7h0M1285.3 615.3h0M1290.1 632.3h0M1294.9 630.5h0M1299.8 626.5h0M1304.6 633.4h0M741.7 642.1h0" stroke="#e0405a" stroke-width="3.2" stroke-linecap="round" fill="none"/>
<path d="M613.7 622.5h0M618.5 609.3h0M623.3 607.2h0M628.2 611.0h0M633.0 617.3h0M637.8 608.7h0M642.7 625.0h0M647.5 622.1h0M652.3 614.2h0M657.2 635.5h0M662.0 615.5h0M666.8 627.7h0M671.6 635.2h0M676.5 625.8h0M681.3 630.9h0M686.1 616.1h0M691.0 611.1h0M695.8 612.4h0M700.6 621.1h0M705.5 624.8h0M710.3 621.2h0M715.1 628.8h0M720.0 631.7h0M724.8 622.3h0M729.6 631.7h0M734.5 629.2h0M739.3 623.8h0M744.1 621.9h0M749.0 629.8h0M753.8 617.4h0M758.6 619.5h0M763.4 631.3h0M768.3 623.4h0M773.1 625.3h0M777.9 627.6h0M782.8 616.4h0M787.6 615.4h0M792.4 618.5h0M797.3 638.8h0M802.1 625.0h0M806.9 611.3h0M811.8 617.3h0M816.6 621.4h0M821.4 612.5h0M826.3 628.3h0M831.1 618.7h0M835.9 622.0h0M840.8 620.9h0M845.6 626.4h0M850.4 630.7h0M855.2 617.3h0M860.1 633.6h0M864.9 615.6h0M869.7 614.9h0M874.6 600.6h0M879.4 606.9h0M884.2 597.4h0M889.1 596.2h0M893.9 599.8h0M898.7 592.1h0M903.6 580.2h0M908.4 565.5h0M913.2 550.2h0M918.1 579.4h0M922.9 526.3h0M927.7 557.1h0M932.6 557.5h0M937.4 539.9h0M942.2 523.8h0M947.0 587.1h0M951.9 548.2h0M956.7 537.8h0M961.5 540.2h0M966.4 576.7h0M971.2 499.8h0M976.0 552.4h0M980.9 561.9h0M985.7 537.0h0M990.5 569.7h0M995.4 525.4h0M1000.2 547.4h0M1005.0 544.3h0M1009.9 558.9h0M1014.7 526.3h0M1019.5 530.8h0M1024.4 495.6h0M1029.2 500.4h0M1034.0 515.6h0M1038.8 512.4h0M1043.7 513.2h0M1048.5 565.5h0M1053.3 525.0h0M1058.2 518.5h0M1063.0 542.3h0M1067.8 551.8h0M1072.7 565.7h0M1077.5 566.8h0M1082.3 632.4h0M1087.2 615.5h0M1092.0 607.4h0M1096.8 608.8h0M1101.7 614.9h0M1106.5 619.7h0M1111.3 620.5h0M1116.2 623.6h0M1121.0 618.8h0M1125.8 617.7h0M1130.6 619.3h0M1135.5 631.6h0M1140.3 627.3h0M1145.1 621.0h0M1150.0 623.9h0M1154.8 627.7h0M1159.6 626.5h0M1164.5 628.5h0M1169.3 618.0h0M1174.1 636.6h0M1179.0 618.4h0M1183.8 615.4h0M1188.6 617.1h0M1193.5 629.9h0M1198.3 619.0h0M1203.1 622.5h0M1208.0 616.3h0M1212.8 631.0h0M1217.6 628.4h0M1222.4 614.9h0M1227.3 611.2h0M1232.1 627.7h0M1236.9 625.0h0M1241.8 610.7h0M1246.6 624.4h0M1251.4 625.9h0M1256.3 623.1h0M1261.1 632.3h0M1265.9 620.0h0M1270.8 625.6h0M1275.6 625.4h0M1280.4 633.1h0M1285.3 613.3h0M1290.1 617.7h0M1294.9 617.5h0M1299.8 617.9h0M1304.6 630.8h0" stroke="#7fd0e0" stroke-width="3.2" stroke-linecap="round" fill="none"/>
<path d="M613.7 635.4h0M618.5 620.5h0M623.3 609.9h0M628.2 620.9h0M633.0 634.4h0M637.8 626.0h0M642.7 618.0h0M647.5 630.9h0M652.3 621.3h0M657.2 633.5h0M662.0 617.6h0M666.8 637.1h0M671.6 627.0h0M676.5 620.8h0M681.3 617.9h0M686.1 633.3h0M691.0 618.8h0M695.8 615.7h0M700.6 636.2h0M705.5 621.8h0M710.3 619.9h0M715.1 617.4h0M720.0 617.2h0M724.8 614.1h0M729.6 630.3h0M734.5 632.4h0M739.3 637.7h0M744.1 629.1h0M749.0 637.2h0M753.8 620.0h0M758.6 631.5h0M763.4 617.7h0M768.3 628.8h0M773.1 621.6h0M777.9 623.6h0M782.8 629.5h0M787.6 620.2h0M792.4 623.1h0M797.3 623.1h0M802.1 623.1h0M806.9 631.6h0M811.8 627.5h0M816.6 631.0h0M821.4 613.7h0M826.3 636.8h0M831.1 623.1h0M835.9 628.7h0M840.8 619.2h0M845.6 618.3h0M850.4 629.4h0M855.2 623.4h0M860.1 632.4h0M864.9 618.6h0M869.7 600.5h0M874.6 590.8h0M879.4 619.1h0M884.2 631.5h0M889.1 586.8h0M893.9 583.1h0M898.7 551.9h0M903.6 592.0h0M908.4 541.9h0M913.2 522.2h0M918.1 564.8h0M922.9 532.5h0M927.7 551.7h0M932.6 570.7h0M937.4 600.7h0M942.2 601.3h0M947.0 541.4h0M951.9 536.0h0M956.7 553.3h0M961.5 545.9h0M966.4 553.0h0M971.2 541.0h0M976.0 497.9h0M980.9 492.3h0M985.7 548.6h0M990.5 554.6h0M995.4 544.5h0M1000.2 588.5h0M1005.0 561.6h0M1009.9 542.3h0M1014.7 531.3h0M1019.5 493.5h0M1024.4 506.6h0M1029.2 526.8h0M1034.0 495.7h0M1038.8 537.1h0M1043.7 544.0h0M1048.5 537.3h0M1053.3 515.4h0M1058.2 548.6h0M1063.0 530.0h0M1067.8 573.6h0M1072.7 607.0h0M1077.5 576.7h0M1082.3 593.2h0M1087.2 636.3h0M1092.0 613.1h0M1096.8 626.4h0M1101.7 616.5h0M1106.5 613.9h0M1111.3 630.4h0M1116.2 621.9h0M1121.0 620.4h0M1125.8 621.5h0M1130.6 620.3h0M1135.5 615.6h0M1140.3 634.4h0M1145.1 622.4h0M1150.0 627.0h0M1154.8 625.5h0M1159.6 624.8h0M1164.5 621.1h0M1169.3 614.7h0M1174.1 623.6h0M1179.0 622.5h0M1183.8 616.2h0M1188.6 620.9h0M1193.5 611.8h0M1198.3 615.7h0M1203.1 616.9h0M1208.0 621.3h0M1212.8 616.3h0M1217.6 611.2h0M1222.4 615.7h0M1227.3 619.1h0M1232.1 616.4h0M1236.9 621.5h0M1241.8 622.5h0M1246.6 620.0h0M1251.4 632.2h0M1256.3 634.3h0M1261.1 619.8h0M1265.9 630.5h0M1270.8 612.4h0M1275.6 622.2h0M1280.4 627.4h0M1285.3 614.0h0M1290.1 622.7h0M1294.9 620.8h0M1299.8 623.7h0M1304.6 622.0h0M844.6 563.9h0M1183.8 607.8h0M651.8 641.0h0" stroke="#e84ae4" stroke-width="3.2" stroke-linecap="round" fill="none"/>
<path d="M613.7 610.0h0M618.5 612.6h0M623.3 631.6h0M628.2 625.0h0M633.0 608.5h0M637.8 612.0h0M642.7 628.5h0M647.5 634.1h0M652.3 625.3h0M657.2 614.5h0M662.0 625.7h0M666.8 621.5h0M671.6 631.0h0M676.5 633.5h0M681.3 629.2h0M686.1 634.2h0M691.0 613.2h0M695.8 629.7h0M700.6 623.8h0M705.5 630.8h0M710.3 623.3h0M715.1 636.8h0M720.0 616.4h0M724.8 616.0h0M729.6 637.1h0M734.5 636.6h0M739.3 621.6h0M744.1 615.4h0M749.0 618.4h0M753.8 626.1h0M758.6 623.8h0M763.4 617.7h0M768.3 639.0h0M773.1 614.0h0M777.9 632.2h0M782.8 617.0h0M787.6 635.5h0M792.4 633.0h0M797.3 633.3h0M802.1 619.2h0M806.9 622.6h0M811.8 623.3h0M816.6 626.3h0M821.4 633.5h0M826.3 623.0h0M831.1 625.5h0M835.9 622.3h0M840.8 634.2h0M845.6 619.1h0M850.4 620.3h0M855.2 622.0h0M860.1 630.5h0M864.9 604.3h0M869.7 594.2h0M874.6 606.0h0M879.4 578.3h0M884.2 620.3h0M889.1 582.2h0M893.9 572.3h0M898.7 564.5h0M903.6 626.3h0M908.4 574.6h0M913.2 524.3h0M918.1 575.8h0M922.9 567.2h0M927.7 550.1h0M932.6 568.4h0M937.4 564.4h0M942.2 528.0h0M947.0 589.6h0M951.9 555.5h0M956.7 566.3h0M961.5 535.4h0M966.4 550.9h0M971.2 534.4h0M976.0 500.5h0M980.9 477.2h0M985.7 524.8h0M990.5 555.0h0M995.4 531.7h0M1000.2 563.1h0M1005.0 535.7h0M1009.9 523.9h0M1014.7 528.4h0M1019.5 546.1h0M1024.4 526.3h0M1029.2 530.3h0M1034.0 530.9h0M1038.8 521.0h0M1043.7 532.7h0M1048.5 516.4h0M1053.3 527.5h0M1058.2 548.2h0M1063.0 568.3h0M1067.8 587.8h0M1072.7 593.6h0M1077.5 603.7h0M1082.3 627.4h0M1087.2 601.7h0M1092.0 630.3h0M1096.8 617.5h0M1101.7 610.6h0M1106.5 632.9h0M1111.3 614.2h0M1116.2 628.8h0M1121.0 631.1h0M1125.8 630.8h0M1130.6 609.4h0M1135.5 623.8h0M1140.3 635.7h0M1145.1 615.4h0M1150.0 631.3h0M1154.8 619.7h0M1159.6 614.2h0M1164.5 619.7h0M1169.3 632.9h0M1174.1 627.3h0M1179.0 625.0h0M1183.8 621.5h0M1188.6 632.4h0M1193.5 613.1h0M1198.3 625.1h0M1203.1 614.0h0M1208.0 623.0h0M1212.8 624.6h0M1217.6 617.6h0M1222.4 622.5h0M1227.3 616.3h0M1232.1 623.6h0M1236.9 635.6h0M1241.8 616.1h0M1246.6 614.5h0M1251.4 619.0h0M1256.3 613.9h0M1261.1 636.0h0M1265.9 632.1h0M1270.8 626.6h0M1275.6 621.4h0M1280.4 631.6h0M1285.3 621.0h0M1290.1 633.2h0M1294.9 632.8h0M1299.8 627.6h0M1304.6 633.5h0" stroke="#5a626a" stroke-width="3.2" stroke-linecap="round" fill="none"/>
<path d="M613.7 612.7h0M618.5 619.1h0M623.3 613.1h0M628.2 620.4h0M633.0 612.9h0M637.8 632.0h0M642.7 619.2h0M647.5 632.9h0M652.3 611.3h0M657.2 617.1h0M662.0 614.2h0M666.8 626.2h0M671.6 622.2h0M676.5 628.8h0M681.3 629.3h0M686.1 632.0h0M691.0 617.1h0M695.8 626.1h0M700.6 630.1h0M705.5 627.9h0M710.3 633.2h0M715.1 623.4h0M720.0 635.7h0M724.8 621.5h0M729.6 629.8h0M734.5 623.6h0M739.3 635.1h0M744.1 622.4h0M749.0 614.3h0M753.8 621.0h0M758.6 622.3h0M763.4 619.2h0M768.3 621.6h0M773.1 619.2h0M777.9 617.0h0M782.8 622.5h0M787.6 617.4h0M792.4 615.9h0M797.3 627.3h0M802.1 634.6h0M806.9 612.2h0M811.8 632.3h0M816.6 627.1h0M821.4 616.0h0M826.3 625.1h0M831.1 627.8h0M835.9 627.7h0M840.8 615.8h0M845.6 620.9h0M850.4 628.7h0M855.2 616.2h0M860.1 624.9h0M864.9 624.7h0M869.7 611.7h0M874.6 591.4h0M879.4 583.8h0M884.2 575.5h0M889.1 584.3h0M893.9 557.4h0M898.7 594.7h0M903.6 608.8h0M908.4 590.7h0M913.2 561.4h0M918.1 594.2h0M922.9 540.5h0M927.7 566.7h0M932.6 576.0h0M937.4 583.1h0M942.2 566.9h0M947.0 579.3h0M951.9 563.0h0M956.7 561.0h0M961.5 556.9h0M966.4 563.4h0M971.2 529.4h0M976.0 562.1h0M980.9 475.3h0M985.7 560.5h0M990.5 516.5h0M995.4 545.6h0M1000.2 540.8h0M1005.0 527.6h0M1009.9 529.7h0M1014.7 527.6h0M1019.5 504.7h0M1024.4 489.7h0M1029.2 555.6h0M1034.0 556.4h0M1038.8 497.3h0M1043.7 549.6h0M1048.5 540.1h0M1053.3 549.0h0M1058.2 559.3h0M1063.0 554.5h0M1067.8 595.4h0M1072.7 572.6h0M1077.5 602.8h0M1082.3 598.3h0M1087.2 595.3h0M1092.0 621.8h0M1096.8 605.2h0M1101.7 632.2h0M1106.5 617.3h0M1111.3 610.9h0M1116.2 632.9h0M1121.0 612.6h0M1125.8 612.3h0M1130.6 622.1h0M1135.5 631.1h0M1140.3 614.8h0M1145.1 635.0h0M1150.0 611.4h0M1154.8 620.4h0M1159.6 621.5h0M1164.5 635.2h0M1169.3 614.1h0M1174.1 610.4h0M1179.0 610.8h0M1183.8 622.4h0M1188.6 608.3h0M1193.5 620.8h0M1198.3 633.3h0M1203.1 619.9h0M1208.0 625.8h0M1212.8 619.4h0M1217.6 618.8h0M1222.4 630.1h0M1227.3 629.4h0M1232.1 629.2h0M1236.9 630.2h0M1241.8 624.7h0M1246.6 621.0h0M1251.4 632.7h0M1256.3 631.4h0M1261.1 630.4h0M1265.9 619.0h0M1270.8 619.9h0M1275.6 618.2h0M1280.4 623.3h0M1285.3 621.8h0M1290.1 612.5h0M1294.9 616.6h0M1299.8 628.1h0M1304.6 621.2h0" stroke="#5f6c78" stroke-width="3.2" stroke-linecap="round" fill="none"/>
<path d="M613.7 624.2h0M618.5 635.6h0M623.3 613.7h0M628.2 609.6h0M633.0 628.7h0M637.8 624.7h0M642.7 622.3h0M647.5 629.5h0M652.3 630.6h0M657.2 612.2h0M662.0 631.9h0M666.8 615.4h0M671.6 613.3h0M676.5 615.1h0M681.3 634.5h0M686.1 613.1h0M691.0 618.0h0M695.8 632.0h0M700.6 626.0h0M705.5 618.9h0M710.3 614.6h0M715.1 633.4h0M720.0 619.0h0M724.8 623.8h0M729.6 624.2h0M734.5 613.6h0M739.3 626.7h0M744.1 633.7h0M749.0 633.7h0M753.8 630.2h0M758.6 632.6h0M763.4 630.7h0M768.3 618.9h0M773.1 629.6h0M777.9 630.4h0M782.8 637.2h0M787.6 627.8h0M792.4 629.8h0M797.3 637.6h0M802.1 618.4h0M806.9 625.3h0M811.8 635.2h0M816.6 615.2h0M821.4 626.8h0M826.3 630.1h0M831.1 631.0h0M835.9 631.1h0M840.8 623.1h0M845.6 637.0h0M850.4 637.7h0M855.2 620.0h0M860.1 621.1h0M864.9 612.9h0M869.7 629.8h0M874.6 607.3h0M879.4 619.2h0M884.2 595.7h0M889.1 583.8h0M893.9 580.7h0M898.7 556.5h0M903.6 589.3h0M908.4 586.1h0M913.2 553.8h0M918.1 570.1h0M922.9 540.3h0M927.7 566.5h0M932.6 551.2h0M937.4 596.2h0M942.2 569.1h0M947.0 565.8h0M951.9 539.2h0M956.7 553.4h0M961.5 547.7h0M966.4 559.5h0M971.2 510.7h0M976.0 533.4h0M980.9 503.8h0M985.7 514.4h0M990.5 575.9h0M995.4 539.5h0M1000.2 505.5h0M1005.0 576.8h0M1009.9 563.9h0M1014.7 559.6h0M1019.5 534.6h0M1024.4 571.3h0M1029.2 510.0h0M1034.0 549.1h0M1038.8 521.3h0M1043.7 564.3h0M1048.5 563.6h0M1053.3 531.5h0M1058.2 537.5h0M1063.0 550.2h0M1067.8 583.1h0M1072.7 568.0h0M1077.5 585.2h0M1082.3 616.9h0M1087.2 600.8h0M1092.0 616.7h0M1096.8 623.9h0M1101.7 621.6h0M1106.5 621.4h0M1111.3 632.7h0M1116.2 617.7h0M1121.0 615.8h0M1125.8 629.5h0M1130.6 613.7h0M1135.5 633.0h0M1140.3 619.4h0M1145.1 636.5h0M1150.0 619.8h0M1154.8 624.7h0M1159.6 628.9h0M1164.5 610.0h0M1169.3 617.2h0M1174.1 634.6h0M1179.0 634.9h0M1183.8 609.0h0M1188.6 609.8h0M1193.5 626.4h0M1198.3 623.1h0M1203.1 611.8h0M1208.0 615.9h0M1212.8 634.2h0M1217.6 612.3h0M1222.4 621.1h0M1227.3 612.7h0M1232.1 618.9h0M1236.9 626.6h0M1241.8 628.6h0M1246.6 615.7h0M1251.4 627.7h0M1256.3 630.0h0M1261.1 611.6h0M1265.9 613.3h0M1270.8 627.7h0M1275.6 615.6h0M1280.4 609.3h0M1285.3 624.2h0M1290.1 635.6h0M1294.9 625.1h0M1299.8 634.9h0M1304.6 631.6h0" stroke="#f0503c" stroke-width="3.2" stroke-linecap="round" fill="none"/>
<path d="M613.7 626.0h0M618.5 626.4h0M623.3 624.9h0M628.2 631.0h0M633.0 633.2h0M637.8 623.5h0M642.7 612.5h0M647.5 617.3h0M652.3 613.0h0M657.2 628.0h0M662.0 631.4h0M666.8 617.0h0M671.6 619.7h0M676.5 630.2h0M681.3 626.5h0M686.1 631.3h0M691.0 633.5h0M695.8 630.4h0M700.6 633.9h0M705.5 616.4h0M710.3 625.1h0M715.1 624.7h0M720.0 619.8h0M724.8 629.0h0M729.6 618.8h0M734.5 630.9h0M739.3 626.7h0M744.1 623.7h0M749.0 617.5h0M753.8 624.7h0M758.6 619.2h0M763.4 635.3h0M768.3 631.3h0M773.1 628.4h0M777.9 615.7h0M782.8 631.1h0M787.6 632.9h0M792.4 635.6h0M797.3 628.1h0M802.1 621.8h0M806.9 615.4h0M811.8 626.6h0M816.6 632.0h0M821.4 619.6h0M826.3 621.1h0M831.1 633.7h0M835.9 617.9h0M840.8 628.1h0M845.6 634.2h0M850.4 634.8h0M855.2 632.3h0M860.1 626.2h0M864.9 622.7h0M869.7 598.8h0M874.6 615.5h0M879.4 586.0h0M884.2 567.3h0M889.1 600.8h0M893.9 554.5h0M898.7 562.3h0M903.6 590.1h0M908.4 569.9h0M913.2 551.8h0M918.1 568.4h0M922.9 558.6h0M927.7 560.2h0M932.6 554.2h0M937.4 566.8h0M942.2 550.3h0M947.0 556.1h0M951.9 526.1h0M956.7 544.5h0M961.5 530.7h0M966.4 547.8h0M971.2 518.9h0M976.0 527.5h0M980.9 544.0h0M985.7 525.6h0M990.5 534.0h0M995.4 517.0h0M1000.2 618.9h0M1005.0 590.5h0M1009.9 541.3h0M1014.7 567.6h0M1019.5 486.7h0M1024.4 524.1h0M1029.2 566.2h0M1034.0 499.3h0M1038.8 540.0h0M1043.7 520.3h0M1048.5 580.1h0M1053.3 557.9h0M1058.2 565.7h0M1063.0 578.8h0M1067.8 604.1h0M1072.7 619.5h0M1077.5 589.5h0M1082.3 629.9h0M1087.2 619.5h0M1092.0 605.9h0M1096.8 618.6h0M1101.7 628.7h0M1106.5 623.0h0M1111.3 620.1h0M1116.2 630.2h0M1121.0 632.3h0M1125.8 628.1h0M1130.6 611.7h0M1135.5 626.6h0M1140.3 630.6h0M1145.1 625.2h0M1150.0 631.8h0M1154.8 616.0h0M1159.6 615.3h0M1164.5 630.2h0M1169.3 619.2h0M1174.1 632.5h0M1179.0 630.5h0M1183.8 619.5h0M1188.6 631.6h0M1193.5 619.2h0M1198.3 621.0h0M1203.1 627.2h0M1208.0 623.0h0M1212.8 620.6h0M1217.6 616.3h0M1222.4 617.1h0M1227.3 615.1h0M1232.1 635.1h0M1236.9 634.0h0M1241.8 629.5h0M1246.6 613.7h0M1251.4 613.9h0M1256.3 636.1h0M1261.1 618.5h0M1265.9 628.7h0M1270.8 624.4h0M1275.6 629.9h0M1280.4 625.4h0M1285.3 627.8h0M1290.1 618.3h0M1294.9 624.5h0M1299.8 614.9h0M1304.6 612.6h0M1183.8 588.5h0" stroke="#56665c" stroke-width="3.2" stroke-linecap="round" fill="none"/>
<path d="M613.7 634.1h0M618.5 624.6h0M623.3 623.8h0M628.2 612.8h0M633.0 615.1h0M637.8 618.8h0M642.7 635.8h0M647.5 625.6h0M652.3 632.6h0M657.2 622.7h0M662.0 618.9h0M666.8 624.3h0M671.6 623.5h0M676.5 621.7h0M681.3 627.6h0M686.1 610.5h0M691.0 628.6h0M695.8 619.6h0M700.6 626.9h0M705.5 633.6h0M710.3 616.7h0M715.1 631.2h0M720.0 632.8h0M724.8 634.0h0M729.6 627.1h0M734.5 612.1h0M739.3 618.4h0M744.1 627.6h0M749.0 630.8h0M753.8 622.7h0M758.6 628.6h0M763.4 629.2h0M768.3 629.6h0M773.1 633.8h0M777.9 621.0h0M782.8 630.4h0M787.6 616.0h0M792.4 626.0h0M797.3 619.4h0M802.1 616.8h0M806.9 617.7h0M811.8 626.5h0M816.6 625.0h0M821.4 625.8h0M826.3 623.7h0M831.1 612.4h0M835.9 618.7h0M840.8 632.4h0M845.6 638.3h0M850.4 623.1h0M855.2 622.6h0M860.1 621.8h0M864.9 607.7h0M869.7 618.2h0M874.6 595.4h0M879.4 602.5h0M884.2 560.4h0M889.1 588.5h0M893.9 602.5h0M898.7 585.2h0M903.6 578.6h0M908.4 591.8h0M913.2 521.6h0M918.1 582.0h0M922.9 538.7h0M927.7 561.5h0M932.6 563.5h0M937.4 589.4h0M942.2 555.7h0M947.0 569.5h0M951.9 541.2h0M956.7 555.5h0M961.5 579.2h0M966.4 540.2h0M971.2 547.7h0M976.0 537.4h0M980.9 511.4h0M985.7 535.3h0M990.5 596.4h0M995.4 540.0h0M1000.2 496.3h0M1005.0 567.1h0M1009.9 528.5h0M1014.7 537.8h0M1019.5 528.2h0M1024.4 564.1h0M1029.2 521.3h0M1034.0 528.7h0M1038.8 502.7h0M1043.7 584.4h0M1048.5 571.5h0M1053.3 554.9h0M1058.2 522.1h0M1063.0 549.5h0M1067.8 566.8h0M1072.7 614.6h0M1077.5 559.5h0M1082.3 619.5h0M1087.2 623.8h0M1092.0 624.0h0M1096.8 633.9h0M1101.7 636.2h0M1106.5 624.2h0M1111.3 611.7h0M1116.2 611.9h0M1121.0 629.8h0M1125.8 622.5h0M1130.6 625.9h0M1135.5 583.3h0M1140.3 633.0h0M1145.1 619.3h0M1150.0 611.7h0M1154.8 622.8h0M1159.6 624.3h0M1164.5 629.6h0M1169.3 612.7h0M1174.1 622.6h0M1179.0 631.1h0M1183.8 610.5h0M1188.6 619.5h0M1193.5 630.3h0M1198.3 634.3h0M1203.1 623.9h0M1208.0 627.7h0M1212.8 618.6h0M1217.6 614.2h0M1222.4 632.5h0M1227.3 625.3h0M1232.1 633.8h0M1236.9 614.7h0M1241.8 619.2h0M1246.6 629.8h0M1251.4 615.0h0M1256.3 629.2h0M1261.1 637.5h0M1265.9 633.0h0M1270.8 616.1h0M1275.6 613.7h0M1280.4 618.7h0M1285.3 628.5h0M1290.1 636.9h0M1294.9 627.3h0M1299.8 636.4h0M1304.6 627.1h0M1183.8 601.4h0" stroke="#6a82a2" stroke-width="3.2" stroke-linecap="round" fill="none"/>
<path d="M613.7 623.2h0M618.5 632.4h0M623.3 615.8h0M628.2 633.0h0M633.0 637.5h0M637.8 614.3h0M642.7 620.9h0M647.5 628.2h0M652.3 629.3h0M657.2 619.3h0M662.0 625.6h0M666.8 623.9h0M671.6 633.3h0M676.5 633.1h0M681.3 623.7h0M686.1 621.5h0M691.0 634.6h0M695.8 627.6h0M700.6 629.2h0M705.5 634.6h0M710.3 636.2h0M715.1 625.8h0M720.0 618.0h0M724.8 620.4h0M729.6 634.7h0M734.5 623.5h0M739.3 633.3h0M744.1 626.4h0M749.0 627.1h0M753.8 624.5h0M758.6 627.8h0M763.4 627.2h0M768.3 627.1h0M773.1 630.9h0M777.9 638.3h0M782.8 621.0h0M787.6 630.8h0M792.4 620.5h0M797.3 635.0h0M802.1 629.4h0M806.9 620.3h0M811.8 628.2h0M816.6 617.2h0M821.4 630.3h0M826.3 632.4h0M831.1 627.0h0M835.9 623.3h0M840.8 630.4h0M845.6 623.4h0M850.4 619.2h0M855.2 619.1h0M860.1 622.7h0M864.9 629.5h0M869.7 621.9h0M874.6 619.2h0M879.4 591.0h0M884.2 612.5h0M889.1 606.0h0M893.9 584.1h0M898.7 537.6h0M903.6 600.2h0M908.4 570.3h0M913.2 550.3h0M918.1 545.1h0M922.9 552.1h0M927.7 546.4h0M932.6 562.6h0M937.4 606.2h0M942.2 560.3h0M947.0 563.1h0M951.9 560.2h0M956.7 551.6h0M961.5 587.7h0M966.4 571.6h0M971.2 531.8h0M976.0 575.1h0M980.9 522.2h0M985.7 496.0h0M990.5 550.6h0M995.4 555.4h0M1000.2 593.6h0M1005.0 573.4h0M1009.9 533.3h0M1014.7 535.5h0M1019.5 529.3h0M1024.4 583.0h0M1029.2 502.1h0M1034.0 541.0h0M1038.8 507.5h0M1043.7 513.5h0M1048.5 551.8h0M1053.3 564.7h0M1058.2 538.2h0M1063.0 574.1h0M1067.8 576.4h0M1072.7 584.4h0M1077.5 589.3h0M1082.3 595.3h0M1087.2 606.3h0M1092.0 625.8h0M1096.8 611.5h0M1101.7 633.7h0M1106.5 631.4h0M1111.3 624.1h0M1116.2 635.3h0M1121.0 616.1h0M1125.8 613.8h0M1130.6 614.8h0M1135.5 621.4h0M1140.3 611.6h0M1145.1 617.7h0M1150.0 626.4h0M1154.8 612.9h0M1159.6 617.2h0M1164.5 633.0h0M1169.3 626.9h0M1174.1 613.0h0M1179.0 626.6h0M1183.8 633.7h0M1188.6 609.4h0M1193.5 624.4h0M1198.3 626.5h0M1203.1 630.4h0M1208.0 617.3h0M1212.8 621.1h0M1217.6 631.0h0M1222.4 623.5h0M1227.3 623.7h0M1232.1 620.9h0M1236.9 627.6h0M1241.8 633.4h0M1246.6 612.0h0M1251.4 628.6h0M1256.3 624.9h0M1261.1 628.7h0M1265.9 636.9h0M1270.8 622.2h0M1275.6 629.0h0M1280.4 612.9h0M1285.3 630.3h0M1290.1 629.6h0M1294.9 634.6h0M1299.8 630.3h0M1304.6 614.0h0" stroke="#3a8a4c" stroke-width="3.2" stroke-linecap="round" fill="none"/>
<path d="M613.7 618.4h0M618.5 627.4h0M623.3 616.7h0M628.2 617.7h0M633.0 630.7h0M637.8 627.7h0M642.7 608.7h0M647.5 620.6h0M652.3 620.0h0M657.2 625.8h0M662.0 622.4h0M666.8 622.2h0M671.6 619.9h0M676.5 623.4h0M681.3 625.9h0M686.1 626.5h0M691.0 622.6h0M695.8 617.1h0M700.6 623.2h0M705.5 632.5h0M710.3 620.7h0M715.1 620.9h0M720.0 623.9h0M724.8 632.7h0M729.6 628.6h0M734.5 625.8h0M739.3 622.3h0M744.1 635.1h0M749.0 612.5h0M753.8 616.2h0M758.6 629.7h0M763.4 623.0h0M768.3 616.5h0M773.1 637.4h0M777.9 629.4h0M782.8 625.4h0M787.6 622.7h0M792.4 624.6h0M797.3 621.9h0M802.1 631.8h0M806.9 635.1h0M811.8 621.6h0M816.6 622.0h0M821.4 629.0h0M826.3 615.8h0M831.1 622.0h0M835.9 627.3h0M840.8 633.5h0M845.6 630.0h0M850.4 626.2h0M855.2 633.3h0M860.1 618.6h0M864.9 617.4h0M869.7 603.2h0M874.6 611.0h0M879.4 574.2h0M884.2 585.9h0M889.1 591.9h0M893.9 561.0h0M898.7 582.7h0M903.6 603.0h0M908.4 542.0h0M913.2 537.7h0M918.1 548.3h0M922.9 549.9h0M927.7 550.6h0M932.6 546.3h0M937.4 541.9h0M942.2 557.6h0M947.0 578.9h0M951.9 533.6h0M956.7 530.4h0M961.5 554.9h0M966.4 555.6h0M971.2 511.9h0M976.0 549.2h0M980.9 557.5h0M985.7 588.2h0M990.5 512.8h0M995.4 522.4h0M1000.2 541.4h0M1005.0 576.8h0M1009.9 509.0h0M1014.7 554.4h0M1019.5 516.7h0M1024.4 536.5h0M1029.2 559.7h0M1034.0 540.8h0M1038.8 531.4h0M1043.7 558.7h0M1048.5 544.3h0M1053.3 563.1h0M1058.2 561.3h0M1063.0 559.8h0M1067.8 579.3h0M1072.7 578.9h0M1077.5 568.1h0M1082.3 624.3h0M1087.2 618.1h0M1092.0 612.3h0M1096.8 614.3h0M1101.7 608.7h0M1106.5 612.7h0M1111.3 616.1h0M1116.2 612.8h0M1121.0 627.4h0M1125.8 620.3h0M1130.6 622.9h0M1135.5 636.6h0M1140.3 612.2h0M1145.1 626.8h0M1150.0 617.9h0M1154.8 630.7h0M1159.6 635.4h0M1164.5 623.6h0M1169.3 627.8h0M1174.1 629.4h0M1179.0 612.5h0M1183.8 624.9h0M1188.6 624.2h0M1193.5 614.9h0M1198.3 632.1h0M1203.1 631.5h0M1208.0 630.7h0M1212.8 622.2h0M1217.6 626.3h0M1222.4 613.8h0M1227.3 627.4h0M1232.1 633.1h0M1236.9 613.4h0M1241.8 634.3h0M1246.6 610.5h0M1251.4 617.5h0M1256.3 635.1h0M1261.1 621.3h0M1265.9 624.7h0M1270.8 634.7h0M1275.6 613.2h0M1280.4 612.1h0M1285.3 625.5h0M1290.1 620.8h0M1294.9 632.0h0M1299.8 632.6h0M1304.6 623.4h0M1131.6 590.7h0" stroke="#4a4ab0" stroke-width="3.2" stroke-linecap="round" fill="none"/>
<path d="M613.7 627.3h0M618.5 613.7h0M623.3 620.1h0M628.2 618.9h0M633.0 620.9h0M637.8 615.0h0M642.7 607.2h0M647.5 614.8h0M652.3 636.1h0M657.2 613.1h0M662.0 619.9h0M666.8 632.5h0M671.6 616.9h0M676.5 629.8h0M681.3 628.2h0M686.1 627.7h0M691.0 630.5h0M695.8 627.0h0M700.6 633.5h0M705.5 618.1h0M710.3 628.5h0M715.1 635.1h0M720.0 623.0h0M724.8 626.6h0M729.6 617.0h0M734.5 618.8h0M739.3 619.6h0M744.1 630.5h0M749.0 621.6h0M753.8 634.0h0M758.6 617.8h0M763.4 625.5h0M768.3 636.0h0M773.1 617.3h0M777.9 625.8h0M782.8 633.4h0M787.6 631.5h0M792.4 625.3h0M797.3 633.0h0M802.1 626.8h0M806.9 626.4h0M811.8 619.4h0M816.6 624.1h0M821.4 616.8h0M826.3 633.4h0M831.1 630.8h0M835.9 624.8h0M840.8 626.0h0M845.6 622.2h0M850.4 617.9h0M855.2 627.4h0M860.1 627.2h0M864.9 624.5h0M869.7 603.4h0M874.6 614.7h0M879.4 600.7h0M884.2 605.9h0M889.1 596.9h0M893.9 625.3h0M898.7 548.1h0M903.6 584.9h0M908.4 549.2h0M913.2 563.9h0M918.1 590.7h0M922.9 562.6h0M927.7 562.0h0M932.6 554.3h0M937.4 584.6h0M942.2 526.3h0M947.0 577.6h0M951.9 526.0h0M956.7 538.9h0M961.5 529.2h0M966.4 581.5h0M971.2 509.9h0M976.0 521.8h0M980.9 522.3h0M985.7 508.7h0M990.5 590.4h0M995.4 520.1h0M1000.2 602.2h0M1005.0 551.7h0M1009.9 507.1h0M1014.7 552.5h0M1019.5 510.7h0M1024.4 498.9h0M1029.2 536.5h0M1034.0 512.3h0M1038.8 504.3h0M1043.7 580.7h0M1048.5 515.1h0M1053.3 525.3h0M1058.2 572.9h0M1063.0 590.3h0M1067.8 580.7h0M1072.7 586.9h0M1077.5 578.4h0M1082.3 603.8h0M1087.2 626.8h0M1092.0 604.4h0M1096.8 612.7h0M1101.7 621.3h0M1106.5 626.6h0M1111.3 634.1h0M1116.2 634.2h0M1121.0 618.3h0M1125.8 610.7h0M1130.6 632.2h0M1135.5 620.2h0M1140.3 623.9h0M1145.1 623.6h0M1150.0 614.6h0M1154.8 611.4h0M1159.6 623.3h0M1164.5 625.3h0M1169.3 632.7h0M1174.1 615.7h0M1179.0 608.2h0M1183.8 628.7h0M1188.6 626.1h0M1193.5 623.0h0M1198.3 610.8h0M1203.1 621.7h0M1208.0 624.4h0M1212.8 627.1h0M1217.6 633.7h0M1222.4 628.6h0M1227.3 635.8h0M1232.1 636.6h0M1236.9 632.8h0M1241.8 625.7h0M1246.6 623.5h0M1251.4 611.5h0M1256.3 621.8h0M1261.1 629.6h0M1265.9 626.6h0M1270.8 636.7h0M1275.6 618.8h0M1280.4 622.5h0M1285.3 634.3h0M1290.1 624.4h0M1294.9 618.4h0M1299.8 619.6h0M1304.6 615.0h0" stroke="#d0708a" stroke-width="3.2" stroke-linecap="round" fill="none"/>
<path d="M613.7 612.9h0M618.5 615.2h0M623.3 630.3h0M628.2 634.3h0M633.0 619.1h0M637.8 633.2h0M642.7 631.1h0M647.5 627.4h0M652.3 627.1h0M657.2 628.6h0M662.0 633.6h0M666.8 628.4h0M671.6 615.6h0M676.5 635.3h0M681.3 617.6h0M686.1 627.7h0M691.0 619.6h0M695.8 624.8h0M700.6 627.3h0M705.5 617.3h0M710.3 631.4h0M715.1 618.0h0M720.0 615.1h0M724.8 617.6h0M729.6 627.4h0M734.5 616.3h0M739.3 636.6h0M744.1 619.6h0M749.0 636.0h0M753.8 632.6h0M758.6 625.8h0M763.4 623.0h0M768.3 615.4h0M773.1 616.5h0M777.9 619.4h0M782.8 620.3h0M787.6 622.2h0M792.4 630.5h0M797.3 636.4h0M802.1 630.7h0M806.9 630.1h0M811.8 631.4h0M816.6 618.7h0M821.4 623.6h0M826.3 617.5h0M831.1 634.9h0M835.9 633.2h0M840.8 619.4h0M845.6 628.7h0M850.4 621.5h0M855.2 617.8h0M860.1 618.8h0M864.9 624.5h0M869.7 609.3h0M874.6 611.8h0M879.4 622.8h0M884.2 570.2h0M889.1 600.4h0M893.9 597.0h0M898.7 549.0h0M903.6 623.7h0M908.4 561.3h0M913.2 518.5h0M918.1 556.5h0M922.9 550.4h0M927.7 575.7h0M932.6 551.5h0M937.4 614.1h0M942.2 590.9h0M947.0 568.5h0M951.9 523.6h0M956.7 558.9h0M961.5 566.3h0M966.4 569.8h0M971.2 530.1h0M976.0 503.8h0M980.9 553.5h0M985.7 561.4h0M990.5 560.3h0M995.4 548.9h0M1000.2 527.8h0M1005.0 571.1h0M1009.9 566.5h0M1014.7 544.8h0M1019.5 510.5h0M1024.4 548.5h0M1029.2 501.8h0M1034.0 508.8h0M1038.8 544.8h0M1043.7 503.6h0M1048.5 554.6h0M1053.3 516.0h0M1058.2 524.1h0M1063.0 563.7h0M1067.8 555.0h0M1072.7 628.1h0M1077.5 582.2h0M1082.3 605.0h0M1087.2 621.7h0M1092.0 602.8h0M1096.8 615.9h0M1101.7 626.7h0M1106.5 633.9h0M1111.3 627.5h0M1116.2 609.1h0M1121.0 636.2h0M1125.8 616.5h0M1130.6 628.3h0M1135.5 625.6h0M1140.3 617.8h0M1145.1 631.3h0M1150.0 621.1h0M1154.8 621.7h0M1159.6 620.7h0M1164.5 637.0h0M1169.3 622.9h0M1174.1 621.8h0M1179.0 607.6h0M1183.8 632.0h0M1188.6 613.3h0M1193.5 619.5h0M1198.3 621.9h0M1203.1 634.9h0M1208.0 613.3h0M1212.8 629.8h0M1217.6 620.6h0M1222.4 618.9h0M1227.3 636.5h0M1232.1 614.0h0M1236.9 617.3h0M1241.8 620.7h0M1246.6 635.1h0M1251.4 622.6h0M1256.3 617.4h0M1261.1 633.2h0M1265.9 612.0h0M1270.8 619.0h0M1275.6 628.2h0M1280.4 615.8h0M1285.3 631.8h0M1290.1 629.6h0M1294.9 614.2h0M1299.8 625.6h0M1304.6 625.3h0M628.6 642.1h0" stroke="#2c7474" stroke-width="3.2" stroke-linecap="round" fill="none"/>
<path d="M613.7 629.1h0M618.5 629.5h0M623.3 627.1h0M628.2 631.5h0M633.0 607.0h0M637.8 621.4h0M642.7 610.7h0M647.5 619.2h0M652.3 623.7h0M657.2 615.7h0M662.0 614.7h0M666.8 615.1h0M671.6 625.9h0M676.5 631.7h0M681.3 632.7h0M686.1 625.1h0M691.0 614.2h0M695.8 634.6h0M700.6 635.0h0M705.5 625.6h0M710.3 629.0h0M715.1 615.8h0M720.0 625.8h0M724.8 625.5h0M729.6 635.0h0M734.5 634.1h0M739.3 629.6h0M744.1 625.0h0M749.0 625.0h0M753.8 629.4h0M758.6 624.0h0M763.4 616.0h0M768.3 620.3h0M773.1 623.7h0M777.9 631.2h0M782.8 627.7h0M787.6 629.6h0M792.4 634.0h0M797.3 624.3h0M802.1 636.0h0M806.9 624.5h0M811.8 622.2h0M816.6 618.4h0M821.4 634.4h0M826.3 614.3h0M831.1 617.7h0M835.9 634.2h0M840.8 626.8h0M845.6 631.8h0M850.4 636.0h0M855.2 630.0h0M860.1 634.4h0M864.9 627.1h0M869.7 592.1h0M874.6 602.2h0M879.4 580.9h0M884.2 578.3h0M889.1 597.5h0M893.9 605.8h0M898.7 570.9h0M903.6 572.5h0M908.4 549.6h0M913.2 539.2h0M918.1 588.4h0M922.9 519.2h0M927.7 546.3h0M932.6 546.1h0M937.4 543.0h0M942.2 572.7h0M947.0 591.1h0M951.9 533.9h0M956.7 552.8h0M961.5 559.2h0M966.4 566.6h0M971.2 509.8h0M976.0 513.6h0M980.9 514.7h0M985.7 500.3h0M990.5 522.8h0M995.4 516.5h0M1000.2 533.3h0M1005.0 522.0h0M1009.9 527.3h0M1014.7 538.1h0M1019.5 497.2h0M1024.4 551.1h0M1029.2 538.2h0M1034.0 524.6h0M1038.8 526.7h0M1043.7 486.1h0M1048.5 579.7h0M1053.3 541.6h0M1058.2 575.3h0M1063.0 579.2h0M1067.8 574.7h0M1072.7 594.7h0M1077.5 593.2h0M1082.3 600.1h0M1087.2 603.7h0M1092.0 609.5h0M1096.8 631.8h0M1101.7 618.1h0M1106.5 611.2h0M1111.3 617.9h0M1116.2 610.8h0M1121.0 623.0h0M1125.8 632.8h0M1130.6 616.6h0M1135.5 627.8h0M1140.3 628.4h0M1145.1 632.7h0M1150.0 622.1h0M1154.8 628.6h0M1159.6 613.0h0M1164.5 616.3h0M1169.3 628.2h0M1174.1 615.0h0M1179.0 627.9h0M1183.8 612.9h0M1188.6 611.1h0M1193.5 625.1h0M1198.3 617.7h0M1203.1 626.1h0M1208.0 628.7h0M1212.8 614.2h0M1217.6 622.7h0M1222.4 626.4h0M1227.3 619.8h0M1232.1 622.3h0M1236.9 622.0h0M1241.8 614.4h0M1246.6 618.3h0M1251.4 630.7h0M1256.3 616.2h0M1261.1 614.2h0M1265.9 617.8h0M1270.8 615.0h0M1275.6 626.4h0M1280.4 636.5h0M1285.3 631.6h0M1290.1 628.3h0M1294.9 629.8h0M1299.8 620.5h0M1304.6 634.8h0M1131.6 597.1h0M1183.8 595.0h0" stroke="#9a44ba" stroke-width="3.2" stroke-linecap="round" fill="none"/>
<path d="M613.7 620.3h0M618.5 623.5h0M623.3 620.8h0M628.2 627.5h0M633.0 616.1h0M637.8 635.0h0M642.7 630.3h0M647.5 637.1h0M652.3 610.9h0M657.2 617.8h0M662.0 621.5h0M666.8 633.1h0M671.6 617.2h0M676.5 627.5h0M681.3 620.8h0M686.1 617.8h0M691.0 620.9h0M695.8 623.3h0M700.6 619.6h0M705.5 626.4h0M710.3 613.2h0M715.1 631.6h0M720.0 633.1h0M724.8 629.0h0M729.6 624.8h0M734.5 627.5h0M739.3 628.4h0M744.1 634.8h0M749.0 632.0h0M753.8 619.2h0M758.6 634.0h0M763.4 620.4h0M768.3 617.5h0M773.1 632.2h0M777.9 634.4h0M782.8 627.2h0M787.6 624.7h0M792.4 619.2h0M797.3 620.4h0M802.1 618.0h0M806.9 618.5h0M811.8 618.6h0M816.6 620.1h0M821.4 622.2h0M826.3 634.2h0M831.1 620.1h0M835.9 629.3h0M840.8 624.5h0M845.6 624.2h0M850.4 633.5h0M855.2 628.2h0M860.1 625.5h0M864.9 628.3h0M869.7 626.0h0M874.6 612.5h0M879.4 573.3h0M884.2 609.0h0M889.1 579.4h0M893.9 578.7h0M898.7 594.8h0M903.6 603.7h0M908.4 572.9h0M913.2 542.6h0M918.1 580.5h0M922.9 566.9h0M927.7 549.2h0M932.6 572.4h0M937.4 546.7h0M942.2 598.6h0M947.0 564.2h0M951.9 557.0h0M956.7 540.6h0M961.5 565.9h0M966.4 570.6h0M971.2 505.9h0M976.0 526.4h0M980.9 464.0h0M985.7 572.9h0M990.5 578.0h0M995.4 510.5h0M1000.2 523.0h0M1005.0 532.4h0M1009.9 511.0h0M1014.7 559.1h0M1019.5 495.3h0M1024.4 560.5h0M1029.2 564.2h0M1034.0 524.2h0M1038.8 552.8h0M1043.7 500.1h0M1048.5 558.4h0M1053.3 555.2h0M1058.2 537.6h0M1063.0 580.1h0M1067.8 597.7h0M1072.7 607.9h0M1077.5 595.1h0M1082.3 605.3h0M1087.2 609.9h0M1092.0 610.9h0M1096.8 627.3h0M1101.7 614.2h0M1106.5 614.9h0M1111.3 623.1h0M1116.2 619.5h0M1121.0 610.0h0M1125.8 631.8h0M1130.6 629.4h0M1135.5 620.8h0M1140.3 613.2h0M1145.1 634.4h0M1150.0 634.0h0M1154.8 617.8h0M1159.6 618.5h0M1164.5 626.7h0M1169.3 630.6h0M1174.1 618.4h0M1179.0 620.1h0M1183.8 634.8h0M1188.6 614.6h0M1193.5 621.5h0M1198.3 628.7h0M1203.1 617.6h0M1208.0 614.2h0M1212.8 634.1h0M1217.6 609.5h0M1222.4 634.8h0M1227.3 626.5h0M1232.1 625.0h0M1236.9 619.1h0M1241.8 621.3h0M1246.6 627.1h0M1251.4 635.5h0M1256.3 619.5h0M1261.1 622.8h0M1265.9 638.6h0M1270.8 629.6h0M1275.6 621.5h0M1280.4 619.9h0M1285.3 616.8h0M1290.1 614.8h0M1294.9 635.6h0M1299.8 622.3h0M1304.6 625.9h0" stroke="#48505a" stroke-width="3.2" stroke-linecap="round" fill="none"/>
<path d="M613.7 608.0h0M618.5 616.4h0M623.3 625.9h0M628.2 623.3h0M633.0 611.7h0M637.8 629.1h0M642.7 616.2h0M647.5 631.4h0M652.3 636.9h0M657.2 632.9h0M662.0 623.4h0M666.8 619.2h0M671.6 623.7h0M676.5 625.5h0M681.3 622.4h0M686.1 611.4h0M691.0 628.1h0M695.8 635.3h0M700.6 618.8h0M705.5 621.3h0M710.3 615.8h0M715.1 619.6h0M720.0 626.0h0M724.8 631.1h0M729.6 619.7h0M734.5 620.1h0M739.3 629.8h0M744.1 617.6h0M749.0 621.2h0M753.8 631.3h0M758.6 629.1h0M763.4 626.1h0M768.3 626.3h0M773.1 620.4h0M777.9 621.9h0M782.8 634.3h0M787.6 625.1h0M792.4 628.0h0M797.3 616.4h0M802.1 633.3h0M806.9 634.1h0M811.8 620.7h0M816.6 629.2h0M821.4 632.3h0M826.3 628.7h0M831.1 616.4h0M835.9 632.3h0M840.8 631.8h0M845.6 633.0h0M850.4 616.9h0M855.2 625.8h0M860.1 627.9h0M864.9 610.9h0M869.7 628.5h0M874.6 606.7h0M879.4 612.4h0M884.2 570.7h0M889.1 605.7h0M893.9 567.2h0M898.7 543.8h0M903.6 570.4h0M908.4 534.7h0M913.2 543.9h0M918.1 594.3h0M922.9 542.1h0M927.7 550.3h0M932.6 549.9h0M937.4 594.5h0M942.2 600.9h0M947.0 558.5h0M951.9 528.6h0M956.7 569.9h0M961.5 552.1h0M966.4 563.6h0M971.2 523.1h0M976.0 540.2h0M980.9 495.8h0M985.7 512.4h0M990.5 531.4h0M995.4 558.3h0M1000.2 498.9h0M1005.0 560.6h0M1009.9 544.2h0M1014.7 546.5h0M1019.5 535.2h0M1024.4 537.0h0M1029.2 513.2h0M1034.0 511.6h0M1038.8 561.2h0M1043.7 546.4h0M1048.5 550.9h0M1053.3 533.8h0M1058.2 534.8h0M1063.0 541.9h0M1067.8 552.1h0M1072.7 605.4h0M1077.5 590.1h0M1082.3 612.0h0M1087.2 632.8h0M1092.0 599.8h0M1096.8 620.2h0M1101.7 598.4h0M1106.5 618.3h0M1111.3 632.4h0M1116.2 615.3h0M1121.0 611.2h0M1125.8 626.9h0M1130.6 617.7h0M1135.5 628.7h0M1140.3 616.9h0M1145.1 616.9h0M1150.0 630.0h0M1154.8 613.8h0M1159.6 627.8h0M1164.5 632.4h0M1169.3 615.7h0M1174.1 616.9h0M1179.0 636.0h0M1183.8 622.8h0M1188.6 628.6h0M1193.5 616.6h0M1198.3 616.3h0M1203.1 612.6h0M1208.0 633.2h0M1212.8 617.8h0M1217.6 622.3h0M1222.4 635.3h0M1227.3 624.2h0M1232.1 610.6h0M1236.9 630.6h0M1241.8 631.9h0M1246.6 621.7h0M1251.4 624.6h0M1256.3 614.8h0M1261.1 635.3h0M1265.9 634.1h0M1270.8 618.5h0M1275.6 633.7h0M1280.4 634.8h0M1285.3 619.8h0M1290.1 626.5h0M1294.9 626.2h0M1299.8 612.8h0M1304.6 619.4h0" stroke="#a8a8a8" stroke-width="3.2" stroke-linecap="round" fill="none"/>
<path d="M613.7 632.5h0M618.5 631.0h0M623.3 609.0h0M628.2 614.5h0M633.0 624.8h0M637.8 619.5h0M642.7 613.4h0M647.5 636.6h0M652.3 618.3h0M657.2 630.8h0M662.0 627.7h0M666.8 635.4h0M671.6 632.4h0M676.5 614.7h0M681.3 622.1h0M686.1 623.4h0M691.0 611.9h0M695.8 621.5h0M700.6 628.8h0M705.5 623.2h0M710.3 606.0h0M715.1 634.2h0M720.0 628.9h0M724.8 627.2h0M729.6 632.6h0M734.5 615.3h0M739.3 624.4h0M744.1 620.3h0M749.0 614.4h0M753.8 618.1h0M758.6 620.2h0M763.4 632.7h0M768.3 637.1h0M773.1 623.1h0M777.9 623.7h0M782.8 633.0h0M787.6 619.4h0M792.4 629.9h0M797.3 624.9h0M802.1 616.2h0M806.9 630.2h0M811.8 629.3h0M816.6 623.2h0M821.4 620.9h0M826.3 630.7h0M831.1 624.9h0M835.9 620.4h0M840.8 622.6h0M845.6 616.4h0M850.4 632.3h0M855.2 629.4h0M860.1 617.8h0M864.9 615.9h0M869.7 636.8h0M874.6 620.0h0M879.4 595.9h0M884.2 595.3h0M889.1 605.3h0M893.9 559.1h0M898.7 567.6h0M903.6 582.1h0M908.4 541.0h0M913.2 529.8h0M918.1 558.2h0M922.9 524.8h0M927.7 552.8h0M932.6 567.0h0M937.4 572.7h0M942.2 535.2h0M947.0 579.3h0M951.9 562.5h0M956.7 564.8h0M961.5 575.3h0M966.4 585.8h0M971.2 528.0h0M976.0 546.8h0M980.9 482.3h0M985.7 535.1h0M990.5 569.1h0M995.4 538.3h0M1000.2 594.5h0M1005.0 581.3h0M1009.9 560.3h0M1014.7 523.1h0M1019.5 506.3h0M1024.4 551.9h0M1029.2 538.5h0M1034.0 519.4h0M1038.8 540.3h0M1043.7 495.5h0M1048.5 543.3h0M1053.3 535.2h0M1058.2 563.7h0M1063.0 577.8h0M1067.8 570.4h0M1072.7 588.4h0M1077.5 576.7h0M1082.3 612.8h0M1087.2 627.9h0M1092.0 622.3h0M1096.8 631.7h0M1101.7 637.7h0M1106.5 621.4h0M1111.3 613.0h0M1116.2 625.2h0M1121.0 614.2h0M1125.8 624.3h0M1130.6 632.7h0M1135.5 613.9h0M1140.3 620.8h0M1145.1 620.6h0M1150.0 629.0h0M1154.8 609.2h0M1159.6 629.4h0M1164.5 618.3h0M1169.3 625.3h0M1174.1 619.4h0M1179.0 615.7h0M1183.8 612.3h0M1188.6 630.1h0M1193.5 631.9h0M1198.3 620.3h0M1203.1 625.1h0M1208.0 619.1h0M1212.8 623.5h0M1217.6 625.0h0M1222.4 631.1h0M1227.3 613.6h0M1232.1 626.3h0M1236.9 624.2h0M1241.8 623.7h0M1246.6 633.6h0M1251.4 619.8h0M1256.3 623.6h0M1261.1 626.1h0M1265.9 616.1h0M1270.8 632.2h0M1275.6 620.1h0M1280.4 629.1h0M1285.3 612.1h0M1290.1 616.2h0M1294.9 584.5h0M1299.8 617.1h0M1304.6 628.0h0M1224.4 605.7h0" stroke="#c04a22" stroke-width="3.2" stroke-linecap="round" fill="none"/>
<path d="M609.2 644.2H1309.0" stroke="#8e8e8e" stroke-width="2"/>
<path d="M611.2 644.2v5M669.2 644.2v5M727.2 644.2v5M785.2 644.2v5M843.2 644.2v5M901.1 644.2v5M959.1 644.2v5M1017.1 644.2v5M1075.1 644.2v5M1133.1 644.2v5M1191.0 644.2v5M1249.0 644.2v5M1307.0 644.2v5" stroke="#8e8e8e" stroke-width="1.6"/>
<text x="598.5" y="647.5" text-anchor="end" font-size="9.5" fill="#505050" stroke="#505050" stroke-width=".25">0</text>
<text x="598.5" y="594.0" text-anchor="end" font-size="9.5" fill="#505050" stroke="#505050" stroke-width=".25">0.5</text>
<text x="598.5" y="540.4" text-anchor="end" font-size="9.5" fill="#505050" stroke="#505050" stroke-width=".25">1</text>
<text x="598.5" y="486.9" text-anchor="end" font-size="9.5" fill="#505050" stroke="#505050" stroke-width=".25">1.5</text>
<text x="598.5" y="433.3" text-anchor="end" font-size="9.5" fill="#505050" stroke="#505050" stroke-width=".25">2</text>
<text x="611.2" y="663.5" text-anchor="middle" font-size="9.3" fill="#454545" stroke="#454545" stroke-width=".3">2025-10-07</text>
<text x="669.2" y="663.5" text-anchor="middle" font-size="9.3" fill="#454545" stroke="#454545" stroke-width=".3">02:00</text>
<text x="727.2" y="663.5" text-anchor="middle" font-size="9.3" fill="#454545" stroke="#454545" stroke-width=".3">04:00</text>
<text x="785.2" y="663.5" text-anchor="middle" font-size="9.3" fill="#454545" stroke="#454545" stroke-width=".3">06:00</text>
<text x="843.2" y="663.5" text-anchor="middle" font-size="9.3" fill="#454545" stroke="#454545" stroke-width=".3">08:00</text>
<text x="901.1" y="663.5" text-anchor="middle" font-size="9.3" fill="#454545" stroke="#454545" stroke-width=".3">10:00</text>
<text x="959.1" y="663.5" text-anchor="middle" font-size="9.3" fill="#454545" stroke="#454545" stroke-width=".3">12:00</text>
<text x="1017.1" y="663.5" text-anchor="middle" font-size="9.3" fill="#454545" stroke="#454545" stroke-width=".3">14:00</text>
<text x="1075.1" y="663.5" text-anchor="middle" font-size="9.3" fill="#454545" stroke="#454545" stroke-width=".3">16:00</text>
<text x="1133.1" y="663.5" text-anchor="middle" font-size="9.3" fill="#454545" stroke="#454545" stroke-width=".3">18:00</text>
<text x="1191.0" y="663.5" text-anchor="middle" font-size="9.3" fill="#454545" stroke="#454545" stroke-width=".3">20:00</text>
<text x="1249.0" y="663.5" text-anchor="middle" font-size="9.3" fill="#454545" stroke="#454545" stroke-width=".3">22:00</text>
<text x="1307.0" y="663.5" text-anchor="middle" font-size="9.3" fill="#454545" stroke="#454545" stroke-width=".3">2025-…</text>
<text transform="translate(578.5 536) rotate(-90)" text-anchor="middle" font-size="8.8" fill="#3b5578" stroke="#3b5578" stroke-width=".3">Wind speed dispersion (m/s)</text>
<circle cx="616.0" cy="685.2" r="2.4" fill="#f08a8a"/><text x="625.5" y="688.5" font-size="9.4" fill="#4e4e4e" stroke="#4e4e4e" stroke-width=".35">0m</text>
<circle cx="672.6" cy="685.2" r="2.4" fill="#8fd0b4"/><text x="682.1" y="688.5" font-size="9.4" fill="#4e4e4e" stroke="#4e4e4e" stroke-width=".35">50m</text>
<circle cx="729.2" cy="685.2" r="2.4" fill="#5a9ee6"/><text x="738.7" y="688.5" font-size="9.4" fill="#4e4e4e" stroke="#4e4e4e" stroke-width=".35">60m</text>
<circle cx="785.8" cy="685.2" r="2.4" fill="#7cbc72"/><text x="795.3" y="688.5" font-size="9.4" fill="#4e4e4e" stroke="#4e4e4e" stroke-width=".35">70m</text>
<circle cx="842.4" cy="685.2" r="2.4" fill="#b09ce0"/><text x="851.9" y="688.5" font-size="9.4" fill="#4e4e4e" stroke="#4e4e4e" stroke-width=".35">80m</text>
<circle cx="899.0" cy="685.2" r="2.4" fill="#e0405a"/><text x="908.5" y="688.5" font-size="9.4" fill="#4e4e4e" stroke="#4e4e4e" stroke-width=".35">90m</text>
<circle cx="955.6" cy="685.2" r="2.4" fill="#7fd0e0"/><text x="965.1" y="688.5" font-size="9.4" fill="#4e4e4e" stroke="#4e4e4e" stroke-width=".35">100m</text>
<circle cx="1012.2" cy="685.2" r="2.4" fill="#e84ae4"/><text x="1021.7" y="688.5" font-size="9.4" fill="#4e4e4e" stroke="#4e4e4e" stroke-width=".35">110m</text>
<circle cx="1068.8" cy="685.2" r="2.4" fill="#5a626a"/><text x="1078.3" y="688.5" font-size="9.4" fill="#4e4e4e" stroke="#4e4e4e" stroke-width=".35">120m</text>
<circle cx="1125.4" cy="685.2" r="2.4" fill="#5f6c78"/><text x="1134.9" y="688.5" font-size="9.4" fill="#4e4e4e" stroke="#4e4e4e" stroke-width=".35">130m</text>
<circle cx="1182.0" cy="685.2" r="2.4" fill="#f0503c"/><text x="1191.5" y="688.5" font-size="9.4" fill="#4e4e4e" stroke="#4e4e4e" stroke-width=".35">140m</text>
<circle cx="1238.6" cy="685.2" r="2.4" fill="#56665c"/><text x="1248.1" y="688.5" font-size="9.4" fill="#4e4e4e" stroke="#4e4e4e" stroke-width=".35">150m</text>
<circle cx="616.0" cy="699.8" r="2.4" fill="#6a82a2"/><text x="625.5" y="703.0" font-size="9.4" fill="#4e4e4e" stroke="#4e4e4e" stroke-width=".35">160m</text>
<circle cx="672.6" cy="699.8" r="2.4" fill="#3a8a4c"/><text x="682.1" y="703.0" font-size="9.4" fill="#4e4e4e" stroke="#4e4e4e" stroke-width=".35">170m</text>
<circle cx="729.2" cy="699.8" r="2.4" fill="#4a4ab0"/><text x="738.7" y="703.0" font-size="9.4" fill="#4e4e4e" stroke="#4e4e4e" stroke-width=".35">180m</text>
<circle cx="785.8" cy="699.8" r="2.4" fill="#d0708a"/><text x="795.3" y="703.0" font-size="9.4" fill="#4e4e4e" stroke="#4e4e4e" stroke-width=".35">200m</text>
<circle cx="842.4" cy="699.8" r="2.4" fill="#2c7474"/><text x="851.9" y="703.0" font-size="9.4" fill="#4e4e4e" stroke="#4e4e4e" stroke-width=".35">220m</text>
<circle cx="899.0" cy="699.8" r="2.4" fill="#9a44ba"/><text x="908.5" y="703.0" font-size="9.4" fill="#4e4e4e" stroke="#4e4e4e" stroke-width=".35">240m</text>
<circle cx="955.6" cy="699.8" r="2.4" fill="#48505a"/><text x="965.1" y="703.0" font-size="9.4" fill="#4e4e4e" stroke="#4e4e4e" stroke-width=".35">260m</text>
<circle cx="1012.2" cy="699.8" r="2.4" fill="#a8a8a8"/><text x="1021.7" y="703.0" font-size="9.4" fill="#4e4e4e" stroke="#4e4e4e" stroke-width=".35">280m</text>
<circle cx="1068.8" cy="699.8" r="2.4" fill="#c04a22"/><text x="1078.3" y="703.0" font-size="9.4" fill="#4e4e4e" stroke="#4e4e4e" stroke-width=".35">300m</text>
</svg>
</div></div>
</div></body></html>
